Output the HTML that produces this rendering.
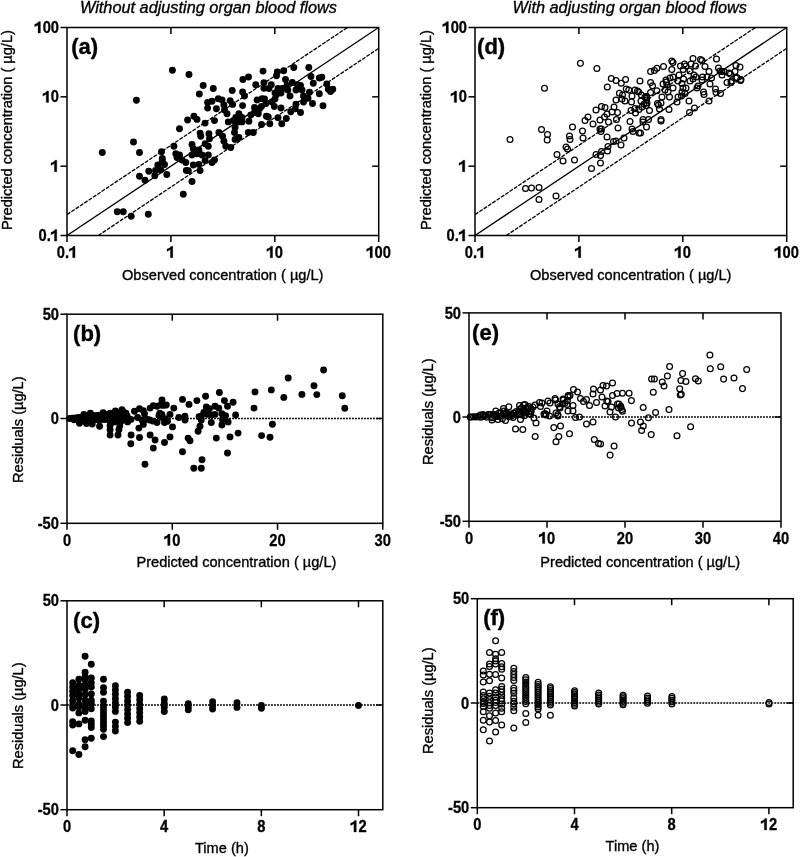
<!DOCTYPE html>
<html><head><meta charset="utf-8"><style>
html,body{margin:0;padding:0;background:#fff;}
body{width:800px;height:857px;overflow:hidden;font-family:"Liberation Sans", sans-serif;}
svg{display:block;will-change:transform;}
text{-webkit-font-smoothing:antialiased;}
</style></head><body>
<svg width="800" height="857" viewBox="0 0 800 857" font-family='"Liberation Sans", sans-serif'><clipPath id="clipa"><rect x="67" y="27.5" width="311.7" height="208.0"/></clipPath>
<g clip-path="url(#clipa)">
<line x1="67.00" y1="235.50" x2="378.70" y2="27.50" stroke="#000" stroke-width="1.3" />
<line x1="67.00" y1="214.63" x2="347.42" y2="27.50" stroke="#000" stroke-width="1.3" stroke-dasharray="4,1.2"/>
<line x1="98.28" y1="235.50" x2="378.70" y2="48.37" stroke="#000" stroke-width="1.3" stroke-dasharray="4,1.2"/>
</g>
<rect x="67" y="27.5" width="311.7" height="208.0" fill="none" stroke="#000" stroke-width="1.5"/>
<line x1="67.00" y1="235.50" x2="67.00" y2="242.00" stroke="#000" stroke-width="1.5" />
<line x1="60.50" y1="235.50" x2="67.00" y2="235.50" stroke="#000" stroke-width="1.5" />
<g transform="translate(56.77 257.80) scale(0.92 1)" fill="#000" stroke="#000" stroke-width="0.3"><text x="0.000" y="0" font-size="16" font-weight="700">0</text><text x="8.896" y="0" font-size="16" font-weight="700">.</text><path transform="translate(13.344 0)" d="M6.5,0 L6.5,-11.5 L4.6,-11.5 C3.9,-10.2 2.2,-9.2 0.25,-8.8 L0.25,-6.4 C1.5,-6.8 2.8,-7.4 3.9,-8.2 L3.9,0 Z"/></g>
<g transform="translate(38.54 241.10) scale(0.92 1)" fill="#000" stroke="#000" stroke-width="0.3"><text x="0.000" y="0" font-size="16" font-weight="700">0</text><text x="8.896" y="0" font-size="16" font-weight="700">.</text><path transform="translate(13.344 0)" d="M6.5,0 L6.5,-11.5 L4.6,-11.5 C3.9,-10.2 2.2,-9.2 0.25,-8.8 L0.25,-6.4 C1.5,-6.8 2.8,-7.4 3.9,-8.2 L3.9,0 Z"/></g>
<line x1="170.90" y1="235.50" x2="170.90" y2="242.00" stroke="#000" stroke-width="1.5" />
<line x1="60.50" y1="166.17" x2="67.00" y2="166.17" stroke="#000" stroke-width="1.5" />
<line x1="170.90" y1="27.50" x2="170.90" y2="34.00" stroke="#000" stroke-width="1.5" />
<line x1="372.20" y1="166.17" x2="378.70" y2="166.17" stroke="#000" stroke-width="1.5" />
<g transform="translate(166.81 257.80) scale(0.92 1)" fill="#000" stroke="#000" stroke-width="0.3"><path transform="translate(0.000 0)" d="M6.5,0 L6.5,-11.5 L4.6,-11.5 C3.9,-10.2 2.2,-9.2 0.25,-8.8 L0.25,-6.4 C1.5,-6.8 2.8,-7.4 3.9,-8.2 L3.9,0 Z"/></g>
<g transform="translate(50.82 171.77) scale(0.92 1)" fill="#000" stroke="#000" stroke-width="0.3"><path transform="translate(0.000 0)" d="M6.5,0 L6.5,-11.5 L4.6,-11.5 C3.9,-10.2 2.2,-9.2 0.25,-8.8 L0.25,-6.4 C1.5,-6.8 2.8,-7.4 3.9,-8.2 L3.9,0 Z"/></g>
<line x1="274.80" y1="235.50" x2="274.80" y2="242.00" stroke="#000" stroke-width="1.5" />
<line x1="60.50" y1="96.83" x2="67.00" y2="96.83" stroke="#000" stroke-width="1.5" />
<line x1="274.80" y1="27.50" x2="274.80" y2="34.00" stroke="#000" stroke-width="1.5" />
<line x1="372.20" y1="96.83" x2="378.70" y2="96.83" stroke="#000" stroke-width="1.5" />
<g transform="translate(266.62 257.80) scale(0.92 1)" fill="#000" stroke="#000" stroke-width="0.3"><path transform="translate(0.000 0)" d="M6.5,0 L6.5,-11.5 L4.6,-11.5 C3.9,-10.2 2.2,-9.2 0.25,-8.8 L0.25,-6.4 C1.5,-6.8 2.8,-7.4 3.9,-8.2 L3.9,0 Z"/><text x="8.896" y="0" font-size="16" font-weight="700">0</text></g>
<g transform="translate(42.63 102.43) scale(0.92 1)" fill="#000" stroke="#000" stroke-width="0.3"><path transform="translate(0.000 0)" d="M6.5,0 L6.5,-11.5 L4.6,-11.5 C3.9,-10.2 2.2,-9.2 0.25,-8.8 L0.25,-6.4 C1.5,-6.8 2.8,-7.4 3.9,-8.2 L3.9,0 Z"/><text x="8.896" y="0" font-size="16" font-weight="700">0</text></g>
<line x1="378.70" y1="235.50" x2="378.70" y2="242.00" stroke="#000" stroke-width="1.5" />
<line x1="60.50" y1="27.50" x2="67.00" y2="27.50" stroke="#000" stroke-width="1.5" />
<g transform="translate(366.42 257.80) scale(0.92 1)" fill="#000" stroke="#000" stroke-width="0.3"><path transform="translate(0.000 0)" d="M6.5,0 L6.5,-11.5 L4.6,-11.5 C3.9,-10.2 2.2,-9.2 0.25,-8.8 L0.25,-6.4 C1.5,-6.8 2.8,-7.4 3.9,-8.2 L3.9,0 Z"/><text x="8.896" y="0" font-size="16" font-weight="700">0</text><text x="17.792" y="0" font-size="16" font-weight="700">0</text></g>
<g transform="translate(34.45 33.10) scale(0.92 1)" fill="#000" stroke="#000" stroke-width="0.3"><path transform="translate(0.000 0)" d="M6.5,0 L6.5,-11.5 L4.6,-11.5 C3.9,-10.2 2.2,-9.2 0.25,-8.8 L0.25,-6.4 C1.5,-6.8 2.8,-7.4 3.9,-8.2 L3.9,0 Z"/><text x="8.896" y="0" font-size="16" font-weight="700">0</text><text x="17.792" y="0" font-size="16" font-weight="700">0</text></g>
<text x="71.20" y="54.20" font-size="22" font-weight="700" font-style="normal" text-anchor="start" stroke="#000" stroke-width="0.4">(a)</text>
<text x="80.00" y="12.70" font-size="16.3" font-weight="400" font-style="italic" text-anchor="start" stroke="#000" stroke-width="0.35" >Without adjusting organ blood flows</text>
<text x="122.00" y="279.60" font-size="14.6" font-weight="400" font-style="normal" text-anchor="start" stroke="#000" stroke-width="0.35" >Observed concentration ( µg/L)</text>
<circle cx="172.4" cy="70.3" r="3.45" fill="#000"/>
<circle cx="136.4" cy="100.3" r="3.45" fill="#000"/>
<circle cx="189.0" cy="74.5" r="3.45" fill="#000"/>
<circle cx="203.2" cy="85.5" r="3.45" fill="#000"/>
<circle cx="213.3" cy="88.5" r="3.45" fill="#000"/>
<circle cx="199.3" cy="94.0" r="3.45" fill="#000"/>
<circle cx="232.2" cy="90.5" r="3.45" fill="#000"/>
<circle cx="242.9" cy="79.5" r="3.45" fill="#000"/>
<circle cx="248.5" cy="77.0" r="3.45" fill="#000"/>
<circle cx="263.0" cy="71.1" r="3.45" fill="#000"/>
<circle cx="255.7" cy="84.7" r="3.45" fill="#000"/>
<circle cx="242.6" cy="92.0" r="3.45" fill="#000"/>
<circle cx="263.9" cy="82.6" r="3.45" fill="#000"/>
<circle cx="263.9" cy="88.3" r="3.45" fill="#000"/>
<circle cx="244.5" cy="96.0" r="3.45" fill="#000"/>
<circle cx="277.3" cy="72.0" r="3.45" fill="#000"/>
<circle cx="276.5" cy="75.8" r="3.45" fill="#000"/>
<circle cx="283.7" cy="70.8" r="3.45" fill="#000"/>
<circle cx="293.8" cy="67.5" r="3.45" fill="#000"/>
<circle cx="308.8" cy="67.5" r="3.45" fill="#000"/>
<circle cx="311.0" cy="76.5" r="3.45" fill="#000"/>
<circle cx="319.3" cy="78.0" r="3.45" fill="#000"/>
<circle cx="321.8" cy="77.3" r="3.45" fill="#000"/>
<circle cx="313.3" cy="83.3" r="3.45" fill="#000"/>
<circle cx="326.8" cy="84.0" r="3.45" fill="#000"/>
<circle cx="328.3" cy="89.3" r="3.45" fill="#000"/>
<circle cx="332.8" cy="89.3" r="3.45" fill="#000"/>
<circle cx="285.5" cy="79.5" r="3.45" fill="#000"/>
<circle cx="271.3" cy="84.8" r="3.45" fill="#000"/>
<circle cx="269.0" cy="88.5" r="3.45" fill="#000"/>
<circle cx="278.0" cy="88.5" r="3.45" fill="#000"/>
<circle cx="287.0" cy="85.5" r="3.45" fill="#000"/>
<circle cx="292.3" cy="82.5" r="3.45" fill="#000"/>
<circle cx="297.5" cy="84.8" r="3.45" fill="#000"/>
<circle cx="300.5" cy="85.5" r="3.45" fill="#000"/>
<circle cx="296.0" cy="90.0" r="3.45" fill="#000"/>
<circle cx="302.0" cy="90.0" r="3.45" fill="#000"/>
<circle cx="287.8" cy="90.0" r="3.45" fill="#000"/>
<circle cx="282.5" cy="88.5" r="3.45" fill="#000"/>
<circle cx="275.0" cy="93.0" r="3.45" fill="#000"/>
<circle cx="281.0" cy="93.0" r="3.45" fill="#000"/>
<circle cx="309.5" cy="92.3" r="3.45" fill="#000"/>
<circle cx="319.3" cy="93.8" r="3.45" fill="#000"/>
<circle cx="303.5" cy="96.0" r="3.45" fill="#000"/>
<circle cx="290.0" cy="96.0" r="3.45" fill="#000"/>
<circle cx="308.0" cy="98.3" r="3.45" fill="#000"/>
<circle cx="303.5" cy="102.0" r="3.45" fill="#000"/>
<circle cx="312.5" cy="103.5" r="3.45" fill="#000"/>
<circle cx="330.5" cy="91.5" r="3.45" fill="#000"/>
<circle cx="323.0" cy="105.8" r="3.45" fill="#000"/>
<circle cx="296.0" cy="104.3" r="3.45" fill="#000"/>
<circle cx="295.3" cy="108.8" r="3.45" fill="#000"/>
<circle cx="290.8" cy="111.8" r="3.45" fill="#000"/>
<circle cx="300.5" cy="112.5" r="3.45" fill="#000"/>
<circle cx="281.0" cy="108.0" r="3.45" fill="#000"/>
<circle cx="274.3" cy="106.5" r="3.45" fill="#000"/>
<circle cx="268.3" cy="117.0" r="3.45" fill="#000"/>
<circle cx="278.0" cy="117.8" r="3.45" fill="#000"/>
<circle cx="286.3" cy="118.5" r="3.45" fill="#000"/>
<circle cx="269.8" cy="123.8" r="3.45" fill="#000"/>
<circle cx="281.8" cy="123.8" r="3.45" fill="#000"/>
<circle cx="261.5" cy="124.5" r="3.45" fill="#000"/>
<circle cx="264.5" cy="99.0" r="3.45" fill="#000"/>
<circle cx="266.0" cy="103.5" r="3.45" fill="#000"/>
<circle cx="261.5" cy="106.5" r="3.45" fill="#000"/>
<circle cx="276.5" cy="94.5" r="3.45" fill="#000"/>
<circle cx="272.0" cy="102.0" r="3.45" fill="#000"/>
<circle cx="275.0" cy="99.0" r="3.45" fill="#000"/>
<circle cx="207.6" cy="102.5" r="3.45" fill="#000"/>
<circle cx="212.0" cy="101.3" r="3.45" fill="#000"/>
<circle cx="218.3" cy="98.8" r="3.45" fill="#000"/>
<circle cx="222.0" cy="100.0" r="3.45" fill="#000"/>
<circle cx="216.4" cy="108.8" r="3.45" fill="#000"/>
<circle cx="207.6" cy="108.1" r="3.45" fill="#000"/>
<circle cx="223.9" cy="105.0" r="3.45" fill="#000"/>
<circle cx="230.1" cy="100.6" r="3.45" fill="#000"/>
<circle cx="232.6" cy="104.4" r="3.45" fill="#000"/>
<circle cx="224.5" cy="110.0" r="3.45" fill="#000"/>
<circle cx="227.0" cy="113.8" r="3.45" fill="#000"/>
<circle cx="242.6" cy="105.6" r="3.45" fill="#000"/>
<circle cx="257.0" cy="100.0" r="3.45" fill="#000"/>
<circle cx="262.0" cy="98.8" r="3.45" fill="#000"/>
<circle cx="254.5" cy="107.5" r="3.45" fill="#000"/>
<circle cx="259.5" cy="108.8" r="3.45" fill="#000"/>
<circle cx="238.9" cy="113.8" r="3.45" fill="#000"/>
<circle cx="235.8" cy="117.5" r="3.45" fill="#000"/>
<circle cx="242.0" cy="117.5" r="3.45" fill="#000"/>
<circle cx="228.3" cy="121.9" r="3.45" fill="#000"/>
<circle cx="233.3" cy="120.6" r="3.45" fill="#000"/>
<circle cx="238.3" cy="121.9" r="3.45" fill="#000"/>
<circle cx="242.0" cy="121.9" r="3.45" fill="#000"/>
<circle cx="248.9" cy="121.3" r="3.45" fill="#000"/>
<circle cx="250.8" cy="115.0" r="3.45" fill="#000"/>
<circle cx="254.5" cy="112.5" r="3.45" fill="#000"/>
<circle cx="258.3" cy="113.8" r="3.45" fill="#000"/>
<circle cx="266.4" cy="116.3" r="3.45" fill="#000"/>
<circle cx="235.1" cy="127.5" r="3.45" fill="#000"/>
<circle cx="234.5" cy="132.5" r="3.45" fill="#000"/>
<circle cx="238.9" cy="137.5" r="3.45" fill="#000"/>
<circle cx="235.1" cy="139.4" r="3.45" fill="#000"/>
<circle cx="248.3" cy="132.5" r="3.45" fill="#000"/>
<circle cx="253.3" cy="132.5" r="3.45" fill="#000"/>
<circle cx="187.6" cy="120.0" r="3.45" fill="#000"/>
<circle cx="193.9" cy="116.3" r="3.45" fill="#000"/>
<circle cx="197.0" cy="119.4" r="3.45" fill="#000"/>
<circle cx="179.5" cy="128.8" r="3.45" fill="#000"/>
<circle cx="205.1" cy="123.1" r="3.45" fill="#000"/>
<circle cx="214.5" cy="120.6" r="3.45" fill="#000"/>
<circle cx="200.1" cy="133.1" r="3.45" fill="#000"/>
<circle cx="200.8" cy="136.3" r="3.45" fill="#000"/>
<circle cx="208.9" cy="133.8" r="3.45" fill="#000"/>
<circle cx="209.5" cy="138.8" r="3.45" fill="#000"/>
<circle cx="218.9" cy="132.5" r="3.45" fill="#000"/>
<circle cx="222.6" cy="136.3" r="3.45" fill="#000"/>
<circle cx="223.9" cy="141.3" r="3.45" fill="#000"/>
<circle cx="225.8" cy="146.3" r="3.45" fill="#000"/>
<circle cx="230.8" cy="147.5" r="3.45" fill="#000"/>
<circle cx="205.1" cy="143.8" r="3.45" fill="#000"/>
<circle cx="208.3" cy="146.3" r="3.45" fill="#000"/>
<circle cx="192.0" cy="144.4" r="3.45" fill="#000"/>
<circle cx="193.3" cy="148.8" r="3.45" fill="#000"/>
<circle cx="198.9" cy="150.0" r="3.45" fill="#000"/>
<circle cx="197.0" cy="153.8" r="3.45" fill="#000"/>
<circle cx="202.0" cy="155.0" r="3.45" fill="#000"/>
<circle cx="208.3" cy="155.0" r="3.45" fill="#000"/>
<circle cx="192.0" cy="155.0" r="3.45" fill="#000"/>
<circle cx="173.9" cy="146.3" r="3.45" fill="#000"/>
<circle cx="175.8" cy="153.8" r="3.45" fill="#000"/>
<circle cx="179.5" cy="155.0" r="3.45" fill="#000"/>
<circle cx="182.0" cy="160.0" r="3.45" fill="#000"/>
<circle cx="185.8" cy="162.5" r="3.45" fill="#000"/>
<circle cx="214.5" cy="160.0" r="3.45" fill="#000"/>
<circle cx="212.0" cy="162.5" r="3.45" fill="#000"/>
<circle cx="133.5" cy="142.0" r="3.45" fill="#000"/>
<circle cx="102.3" cy="152.5" r="3.45" fill="#000"/>
<circle cx="139.5" cy="152.5" r="3.45" fill="#000"/>
<circle cx="161.5" cy="151.8" r="3.45" fill="#000"/>
<circle cx="162.3" cy="158.5" r="3.45" fill="#000"/>
<circle cx="139.5" cy="176.2" r="3.45" fill="#000"/>
<circle cx="145.0" cy="180.3" r="3.45" fill="#000"/>
<circle cx="148.8" cy="171.3" r="3.45" fill="#000"/>
<circle cx="155.5" cy="170.5" r="3.45" fill="#000"/>
<circle cx="157.8" cy="165.0" r="3.45" fill="#000"/>
<circle cx="164.5" cy="164.5" r="3.45" fill="#000"/>
<circle cx="160.8" cy="169.8" r="3.45" fill="#000"/>
<circle cx="154.8" cy="175.8" r="3.45" fill="#000"/>
<circle cx="166.8" cy="174.5" r="3.45" fill="#000"/>
<circle cx="162.3" cy="160.8" r="3.45" fill="#000"/>
<circle cx="186.3" cy="170.5" r="3.45" fill="#000"/>
<circle cx="183.3" cy="194.2" r="3.45" fill="#000"/>
<circle cx="117.3" cy="211.8" r="3.45" fill="#000"/>
<circle cx="123.3" cy="211.8" r="3.45" fill="#000"/>
<circle cx="131.2" cy="216.3" r="3.45" fill="#000"/>
<circle cx="148.3" cy="214.3" r="3.45" fill="#000"/>
<circle cx="192.0" cy="181.5" r="3.45" fill="#000"/>
<circle cx="188.3" cy="170.6" r="3.45" fill="#000"/>
<circle cx="193.3" cy="165.0" r="3.45" fill="#000"/>
<circle cx="198.9" cy="164.4" r="3.45" fill="#000"/>
<circle cx="200.1" cy="170.6" r="3.45" fill="#000"/>
<circle cx="205.1" cy="160.6" r="3.45" fill="#000"/>
<circle cx="177.0" cy="157.5" r="3.45" fill="#000"/>
<text x="11.50" y="230.00" font-size="14.6" font-weight="400" font-style="normal" text-anchor="start" stroke="#000" stroke-width="0.35" transform="rotate(-90 11.5 230)">Predicted concentration ( µg/L)</text>
<clipPath id="clipd"><rect x="475" y="27.5" width="311.70000000000005" height="208.0"/></clipPath>
<g clip-path="url(#clipd)">
<line x1="475.00" y1="235.50" x2="786.70" y2="27.50" stroke="#000" stroke-width="1.3" />
<line x1="475.00" y1="214.63" x2="755.42" y2="27.50" stroke="#000" stroke-width="1.3" stroke-dasharray="4,1.2"/>
<line x1="506.28" y1="235.50" x2="786.70" y2="48.37" stroke="#000" stroke-width="1.3" stroke-dasharray="4,1.2"/>
</g>
<rect x="475" y="27.5" width="311.70000000000005" height="208.0" fill="none" stroke="#000" stroke-width="1.5"/>
<line x1="475.00" y1="235.50" x2="475.00" y2="242.00" stroke="#000" stroke-width="1.5" />
<line x1="468.50" y1="235.50" x2="475.00" y2="235.50" stroke="#000" stroke-width="1.5" />
<g transform="translate(464.77 257.80) scale(0.92 1)" fill="#000" stroke="#000" stroke-width="0.3"><text x="0.000" y="0" font-size="16" font-weight="700">0</text><text x="8.896" y="0" font-size="16" font-weight="700">.</text><path transform="translate(13.344 0)" d="M6.5,0 L6.5,-11.5 L4.6,-11.5 C3.9,-10.2 2.2,-9.2 0.25,-8.8 L0.25,-6.4 C1.5,-6.8 2.8,-7.4 3.9,-8.2 L3.9,0 Z"/></g>
<g transform="translate(446.54 241.10) scale(0.92 1)" fill="#000" stroke="#000" stroke-width="0.3"><text x="0.000" y="0" font-size="16" font-weight="700">0</text><text x="8.896" y="0" font-size="16" font-weight="700">.</text><path transform="translate(13.344 0)" d="M6.5,0 L6.5,-11.5 L4.6,-11.5 C3.9,-10.2 2.2,-9.2 0.25,-8.8 L0.25,-6.4 C1.5,-6.8 2.8,-7.4 3.9,-8.2 L3.9,0 Z"/></g>
<line x1="578.90" y1="235.50" x2="578.90" y2="242.00" stroke="#000" stroke-width="1.5" />
<line x1="468.50" y1="166.17" x2="475.00" y2="166.17" stroke="#000" stroke-width="1.5" />
<line x1="578.90" y1="27.50" x2="578.90" y2="34.00" stroke="#000" stroke-width="1.5" />
<line x1="780.20" y1="166.17" x2="786.70" y2="166.17" stroke="#000" stroke-width="1.5" />
<g transform="translate(574.81 257.80) scale(0.92 1)" fill="#000" stroke="#000" stroke-width="0.3"><path transform="translate(0.000 0)" d="M6.5,0 L6.5,-11.5 L4.6,-11.5 C3.9,-10.2 2.2,-9.2 0.25,-8.8 L0.25,-6.4 C1.5,-6.8 2.8,-7.4 3.9,-8.2 L3.9,0 Z"/></g>
<g transform="translate(458.82 171.77) scale(0.92 1)" fill="#000" stroke="#000" stroke-width="0.3"><path transform="translate(0.000 0)" d="M6.5,0 L6.5,-11.5 L4.6,-11.5 C3.9,-10.2 2.2,-9.2 0.25,-8.8 L0.25,-6.4 C1.5,-6.8 2.8,-7.4 3.9,-8.2 L3.9,0 Z"/></g>
<line x1="682.80" y1="235.50" x2="682.80" y2="242.00" stroke="#000" stroke-width="1.5" />
<line x1="468.50" y1="96.83" x2="475.00" y2="96.83" stroke="#000" stroke-width="1.5" />
<line x1="682.80" y1="27.50" x2="682.80" y2="34.00" stroke="#000" stroke-width="1.5" />
<line x1="780.20" y1="96.83" x2="786.70" y2="96.83" stroke="#000" stroke-width="1.5" />
<g transform="translate(674.62 257.80) scale(0.92 1)" fill="#000" stroke="#000" stroke-width="0.3"><path transform="translate(0.000 0)" d="M6.5,0 L6.5,-11.5 L4.6,-11.5 C3.9,-10.2 2.2,-9.2 0.25,-8.8 L0.25,-6.4 C1.5,-6.8 2.8,-7.4 3.9,-8.2 L3.9,0 Z"/><text x="8.896" y="0" font-size="16" font-weight="700">0</text></g>
<g transform="translate(450.63 102.43) scale(0.92 1)" fill="#000" stroke="#000" stroke-width="0.3"><path transform="translate(0.000 0)" d="M6.5,0 L6.5,-11.5 L4.6,-11.5 C3.9,-10.2 2.2,-9.2 0.25,-8.8 L0.25,-6.4 C1.5,-6.8 2.8,-7.4 3.9,-8.2 L3.9,0 Z"/><text x="8.896" y="0" font-size="16" font-weight="700">0</text></g>
<line x1="786.70" y1="235.50" x2="786.70" y2="242.00" stroke="#000" stroke-width="1.5" />
<line x1="468.50" y1="27.50" x2="475.00" y2="27.50" stroke="#000" stroke-width="1.5" />
<g transform="translate(774.42 257.80) scale(0.92 1)" fill="#000" stroke="#000" stroke-width="0.3"><path transform="translate(0.000 0)" d="M6.5,0 L6.5,-11.5 L4.6,-11.5 C3.9,-10.2 2.2,-9.2 0.25,-8.8 L0.25,-6.4 C1.5,-6.8 2.8,-7.4 3.9,-8.2 L3.9,0 Z"/><text x="8.896" y="0" font-size="16" font-weight="700">0</text><text x="17.792" y="0" font-size="16" font-weight="700">0</text></g>
<g transform="translate(442.45 33.10) scale(0.92 1)" fill="#000" stroke="#000" stroke-width="0.3"><path transform="translate(0.000 0)" d="M6.5,0 L6.5,-11.5 L4.6,-11.5 C3.9,-10.2 2.2,-9.2 0.25,-8.8 L0.25,-6.4 C1.5,-6.8 2.8,-7.4 3.9,-8.2 L3.9,0 Z"/><text x="8.896" y="0" font-size="16" font-weight="700">0</text><text x="17.792" y="0" font-size="16" font-weight="700">0</text></g>
<text x="477.10" y="54.20" font-size="22" font-weight="700" font-style="normal" text-anchor="start" stroke="#000" stroke-width="0.4">(d)</text>
<text x="512.60" y="12.70" font-size="16.3" font-weight="400" font-style="italic" text-anchor="start" stroke="#000" stroke-width="0.35" >With adjusting organ blood flows</text>
<text x="530.00" y="279.60" font-size="14.6" font-weight="400" font-style="normal" text-anchor="start" stroke="#000" stroke-width="0.35" >Observed concentration ( µg/L)</text>
<circle cx="580.4" cy="63.2" r="2.9" fill="none" stroke="#000" stroke-width="1.25"/>
<circle cx="544.5" cy="88.2" r="2.9" fill="none" stroke="#000" stroke-width="1.25"/>
<circle cx="596.9" cy="68.5" r="2.9" fill="none" stroke="#000" stroke-width="1.25"/>
<circle cx="611.3" cy="78.5" r="2.9" fill="none" stroke="#000" stroke-width="1.25"/>
<circle cx="616.0" cy="80.5" r="2.9" fill="none" stroke="#000" stroke-width="1.25"/>
<circle cx="621.3" cy="83.3" r="2.9" fill="none" stroke="#000" stroke-width="1.25"/>
<circle cx="625.6" cy="79.5" r="2.9" fill="none" stroke="#000" stroke-width="1.25"/>
<circle cx="607.3" cy="87.0" r="2.9" fill="none" stroke="#000" stroke-width="1.25"/>
<circle cx="640.0" cy="81.0" r="2.9" fill="none" stroke="#000" stroke-width="1.25"/>
<circle cx="650.6" cy="71.4" r="2.9" fill="none" stroke="#000" stroke-width="1.25"/>
<circle cx="654.4" cy="70.5" r="2.9" fill="none" stroke="#000" stroke-width="1.25"/>
<circle cx="656.9" cy="68.3" r="2.9" fill="none" stroke="#000" stroke-width="1.25"/>
<circle cx="650.6" cy="82.6" r="2.9" fill="none" stroke="#000" stroke-width="1.25"/>
<circle cx="652.5" cy="85.8" r="2.9" fill="none" stroke="#000" stroke-width="1.25"/>
<circle cx="626.3" cy="88.9" r="2.9" fill="none" stroke="#000" stroke-width="1.25"/>
<circle cx="628.8" cy="90.1" r="2.9" fill="none" stroke="#000" stroke-width="1.25"/>
<circle cx="635.0" cy="90.1" r="2.9" fill="none" stroke="#000" stroke-width="1.25"/>
<circle cx="638.8" cy="92.0" r="2.9" fill="none" stroke="#000" stroke-width="1.25"/>
<circle cx="619.4" cy="93.3" r="2.9" fill="none" stroke="#000" stroke-width="1.25"/>
<circle cx="622.5" cy="95.0" r="2.9" fill="none" stroke="#000" stroke-width="1.25"/>
<circle cx="650.6" cy="92.6" r="2.9" fill="none" stroke="#000" stroke-width="1.25"/>
<circle cx="656.9" cy="90.8" r="2.9" fill="none" stroke="#000" stroke-width="1.25"/>
<circle cx="641.3" cy="95.0" r="2.9" fill="none" stroke="#000" stroke-width="1.25"/>
<circle cx="663.5" cy="66.5" r="2.9" fill="none" stroke="#000" stroke-width="1.25"/>
<circle cx="671.8" cy="61.0" r="2.9" fill="none" stroke="#000" stroke-width="1.25"/>
<circle cx="673.0" cy="62.5" r="2.9" fill="none" stroke="#000" stroke-width="1.25"/>
<circle cx="671.8" cy="69.5" r="2.9" fill="none" stroke="#000" stroke-width="1.25"/>
<circle cx="680.5" cy="66.0" r="2.9" fill="none" stroke="#000" stroke-width="1.25"/>
<circle cx="684.5" cy="64.0" r="2.9" fill="none" stroke="#000" stroke-width="1.25"/>
<circle cx="686.0" cy="66.0" r="2.9" fill="none" stroke="#000" stroke-width="1.25"/>
<circle cx="683.2" cy="69.5" r="2.9" fill="none" stroke="#000" stroke-width="1.25"/>
<circle cx="693.0" cy="58.5" r="2.9" fill="none" stroke="#000" stroke-width="1.25"/>
<circle cx="700.5" cy="59.5" r="2.9" fill="none" stroke="#000" stroke-width="1.25"/>
<circle cx="702.0" cy="60.5" r="2.9" fill="none" stroke="#000" stroke-width="1.25"/>
<circle cx="695.5" cy="66.0" r="2.9" fill="none" stroke="#000" stroke-width="1.25"/>
<circle cx="691.0" cy="64.0" r="2.9" fill="none" stroke="#000" stroke-width="1.25"/>
<circle cx="705.0" cy="66.5" r="2.9" fill="none" stroke="#000" stroke-width="1.25"/>
<circle cx="716.5" cy="59.0" r="2.9" fill="none" stroke="#000" stroke-width="1.25"/>
<circle cx="718.5" cy="68.0" r="2.9" fill="none" stroke="#000" stroke-width="1.25"/>
<circle cx="720.0" cy="71.0" r="2.9" fill="none" stroke="#000" stroke-width="1.25"/>
<circle cx="724.0" cy="71.5" r="2.9" fill="none" stroke="#000" stroke-width="1.25"/>
<circle cx="729.0" cy="73.0" r="2.9" fill="none" stroke="#000" stroke-width="1.25"/>
<circle cx="722.0" cy="75.0" r="2.9" fill="none" stroke="#000" stroke-width="1.25"/>
<circle cx="736.0" cy="65.5" r="2.9" fill="none" stroke="#000" stroke-width="1.25"/>
<circle cx="740.0" cy="67.1" r="2.9" fill="none" stroke="#000" stroke-width="1.25"/>
<circle cx="735.0" cy="71.5" r="2.9" fill="none" stroke="#000" stroke-width="1.25"/>
<circle cx="737.0" cy="77.5" r="2.9" fill="none" stroke="#000" stroke-width="1.25"/>
<circle cx="731.5" cy="81.0" r="2.9" fill="none" stroke="#000" stroke-width="1.25"/>
<circle cx="727.0" cy="82.5" r="2.9" fill="none" stroke="#000" stroke-width="1.25"/>
<circle cx="690.0" cy="71.0" r="2.9" fill="none" stroke="#000" stroke-width="1.25"/>
<circle cx="694.0" cy="75.0" r="2.9" fill="none" stroke="#000" stroke-width="1.25"/>
<circle cx="702.5" cy="77.0" r="2.9" fill="none" stroke="#000" stroke-width="1.25"/>
<circle cx="707.0" cy="77.0" r="2.9" fill="none" stroke="#000" stroke-width="1.25"/>
<circle cx="709.0" cy="71.5" r="2.9" fill="none" stroke="#000" stroke-width="1.25"/>
<circle cx="711.5" cy="78.0" r="2.9" fill="none" stroke="#000" stroke-width="1.25"/>
<circle cx="693.0" cy="79.0" r="2.9" fill="none" stroke="#000" stroke-width="1.25"/>
<circle cx="690.0" cy="81.0" r="2.9" fill="none" stroke="#000" stroke-width="1.25"/>
<circle cx="696.0" cy="77.0" r="2.9" fill="none" stroke="#000" stroke-width="1.25"/>
<circle cx="702.0" cy="80.0" r="2.9" fill="none" stroke="#000" stroke-width="1.25"/>
<circle cx="710.0" cy="84.0" r="2.9" fill="none" stroke="#000" stroke-width="1.25"/>
<circle cx="698.0" cy="86.0" r="2.9" fill="none" stroke="#000" stroke-width="1.25"/>
<circle cx="697.0" cy="88.0" r="2.9" fill="none" stroke="#000" stroke-width="1.25"/>
<circle cx="679.0" cy="75.0" r="2.9" fill="none" stroke="#000" stroke-width="1.25"/>
<circle cx="683.5" cy="79.0" r="2.9" fill="none" stroke="#000" stroke-width="1.25"/>
<circle cx="678.0" cy="81.0" r="2.9" fill="none" stroke="#000" stroke-width="1.25"/>
<circle cx="682.0" cy="83.5" r="2.9" fill="none" stroke="#000" stroke-width="1.25"/>
<circle cx="670.0" cy="78.0" r="2.9" fill="none" stroke="#000" stroke-width="1.25"/>
<circle cx="673.0" cy="77.0" r="2.9" fill="none" stroke="#000" stroke-width="1.25"/>
<circle cx="666.0" cy="80.0" r="2.9" fill="none" stroke="#000" stroke-width="1.25"/>
<circle cx="663.0" cy="84.0" r="2.9" fill="none" stroke="#000" stroke-width="1.25"/>
<circle cx="667.0" cy="85.0" r="2.9" fill="none" stroke="#000" stroke-width="1.25"/>
<circle cx="673.0" cy="88.0" r="2.9" fill="none" stroke="#000" stroke-width="1.25"/>
<circle cx="665.0" cy="90.0" r="2.9" fill="none" stroke="#000" stroke-width="1.25"/>
<circle cx="668.0" cy="92.0" r="2.9" fill="none" stroke="#000" stroke-width="1.25"/>
<circle cx="662.0" cy="97.0" r="2.9" fill="none" stroke="#000" stroke-width="1.25"/>
<circle cx="669.5" cy="97.0" r="2.9" fill="none" stroke="#000" stroke-width="1.25"/>
<circle cx="683.0" cy="88.0" r="2.9" fill="none" stroke="#000" stroke-width="1.25"/>
<circle cx="686.0" cy="88.0" r="2.9" fill="none" stroke="#000" stroke-width="1.25"/>
<circle cx="682.0" cy="92.0" r="2.9" fill="none" stroke="#000" stroke-width="1.25"/>
<circle cx="685.0" cy="93.5" r="2.9" fill="none" stroke="#000" stroke-width="1.25"/>
<circle cx="681.5" cy="96.0" r="2.9" fill="none" stroke="#000" stroke-width="1.25"/>
<circle cx="678.0" cy="97.0" r="2.9" fill="none" stroke="#000" stroke-width="1.25"/>
<circle cx="677.0" cy="102.0" r="2.9" fill="none" stroke="#000" stroke-width="1.25"/>
<circle cx="689.0" cy="101.0" r="2.9" fill="none" stroke="#000" stroke-width="1.25"/>
<circle cx="703.5" cy="92.0" r="2.9" fill="none" stroke="#000" stroke-width="1.25"/>
<circle cx="704.0" cy="94.5" r="2.9" fill="none" stroke="#000" stroke-width="1.25"/>
<circle cx="715.5" cy="89.0" r="2.9" fill="none" stroke="#000" stroke-width="1.25"/>
<circle cx="716.0" cy="92.5" r="2.9" fill="none" stroke="#000" stroke-width="1.25"/>
<circle cx="720.5" cy="93.5" r="2.9" fill="none" stroke="#000" stroke-width="1.25"/>
<circle cx="709.0" cy="101.0" r="2.9" fill="none" stroke="#000" stroke-width="1.25"/>
<circle cx="661.0" cy="103.0" r="2.9" fill="none" stroke="#000" stroke-width="1.25"/>
<circle cx="666.3" cy="82.0" r="2.9" fill="none" stroke="#000" stroke-width="1.25"/>
<circle cx="730.5" cy="74.1" r="2.9" fill="none" stroke="#000" stroke-width="1.25"/>
<circle cx="735.8" cy="78.1" r="2.9" fill="none" stroke="#000" stroke-width="1.25"/>
<circle cx="741.0" cy="79.4" r="2.9" fill="none" stroke="#000" stroke-width="1.25"/>
<circle cx="721.8" cy="71.5" r="2.9" fill="none" stroke="#000" stroke-width="1.25"/>
<circle cx="657.5" cy="103.5" r="2.9" fill="none" stroke="#000" stroke-width="1.25"/>
<circle cx="658.5" cy="105.0" r="2.9" fill="none" stroke="#000" stroke-width="1.25"/>
<circle cx="659.5" cy="109.0" r="2.9" fill="none" stroke="#000" stroke-width="1.25"/>
<circle cx="649.5" cy="110.5" r="2.9" fill="none" stroke="#000" stroke-width="1.25"/>
<circle cx="669.0" cy="109.5" r="2.9" fill="none" stroke="#000" stroke-width="1.25"/>
<circle cx="694.5" cy="108.0" r="2.9" fill="none" stroke="#000" stroke-width="1.25"/>
<circle cx="689.5" cy="112.5" r="2.9" fill="none" stroke="#000" stroke-width="1.25"/>
<circle cx="661.0" cy="119.5" r="2.9" fill="none" stroke="#000" stroke-width="1.25"/>
<circle cx="648.5" cy="119.5" r="2.9" fill="none" stroke="#000" stroke-width="1.25"/>
<circle cx="643.0" cy="119.5" r="2.9" fill="none" stroke="#000" stroke-width="1.25"/>
<circle cx="646.5" cy="127.0" r="2.9" fill="none" stroke="#000" stroke-width="1.25"/>
<circle cx="640.5" cy="133.0" r="2.9" fill="none" stroke="#000" stroke-width="1.25"/>
<circle cx="637.5" cy="91.0" r="2.9" fill="none" stroke="#000" stroke-width="1.25"/>
<circle cx="632.0" cy="96.0" r="2.9" fill="none" stroke="#000" stroke-width="1.25"/>
<circle cx="616.0" cy="100.0" r="2.9" fill="none" stroke="#000" stroke-width="1.25"/>
<circle cx="622.0" cy="99.0" r="2.9" fill="none" stroke="#000" stroke-width="1.25"/>
<circle cx="625.0" cy="101.0" r="2.9" fill="none" stroke="#000" stroke-width="1.25"/>
<circle cx="631.5" cy="102.0" r="2.9" fill="none" stroke="#000" stroke-width="1.25"/>
<circle cx="646.5" cy="100.0" r="2.9" fill="none" stroke="#000" stroke-width="1.25"/>
<circle cx="647.0" cy="103.0" r="2.9" fill="none" stroke="#000" stroke-width="1.25"/>
<circle cx="596.0" cy="110.0" r="2.9" fill="none" stroke="#000" stroke-width="1.25"/>
<circle cx="601.5" cy="106.5" r="2.9" fill="none" stroke="#000" stroke-width="1.25"/>
<circle cx="605.0" cy="107.5" r="2.9" fill="none" stroke="#000" stroke-width="1.25"/>
<circle cx="614.0" cy="107.0" r="2.9" fill="none" stroke="#000" stroke-width="1.25"/>
<circle cx="607.0" cy="114.0" r="2.9" fill="none" stroke="#000" stroke-width="1.25"/>
<circle cx="612.0" cy="112.0" r="2.9" fill="none" stroke="#000" stroke-width="1.25"/>
<circle cx="617.5" cy="112.5" r="2.9" fill="none" stroke="#000" stroke-width="1.25"/>
<circle cx="616.5" cy="119.5" r="2.9" fill="none" stroke="#000" stroke-width="1.25"/>
<circle cx="604.5" cy="117.0" r="2.9" fill="none" stroke="#000" stroke-width="1.25"/>
<circle cx="608.5" cy="122.0" r="2.9" fill="none" stroke="#000" stroke-width="1.25"/>
<circle cx="600.0" cy="120.0" r="2.9" fill="none" stroke="#000" stroke-width="1.25"/>
<circle cx="588.0" cy="117.0" r="2.9" fill="none" stroke="#000" stroke-width="1.25"/>
<circle cx="585.0" cy="120.5" r="2.9" fill="none" stroke="#000" stroke-width="1.25"/>
<circle cx="593.0" cy="124.0" r="2.9" fill="none" stroke="#000" stroke-width="1.25"/>
<circle cx="631.0" cy="110.5" r="2.9" fill="none" stroke="#000" stroke-width="1.25"/>
<circle cx="635.0" cy="108.5" r="2.9" fill="none" stroke="#000" stroke-width="1.25"/>
<circle cx="639.0" cy="109.5" r="2.9" fill="none" stroke="#000" stroke-width="1.25"/>
<circle cx="642.0" cy="107.0" r="2.9" fill="none" stroke="#000" stroke-width="1.25"/>
<circle cx="635.5" cy="113.0" r="2.9" fill="none" stroke="#000" stroke-width="1.25"/>
<circle cx="630.0" cy="121.5" r="2.9" fill="none" stroke="#000" stroke-width="1.25"/>
<circle cx="618.0" cy="128.0" r="2.9" fill="none" stroke="#000" stroke-width="1.25"/>
<circle cx="600.0" cy="129.0" r="2.9" fill="none" stroke="#000" stroke-width="1.25"/>
<circle cx="601.0" cy="131.5" r="2.9" fill="none" stroke="#000" stroke-width="1.25"/>
<circle cx="582.5" cy="131.0" r="2.9" fill="none" stroke="#000" stroke-width="1.25"/>
<circle cx="583.0" cy="138.0" r="2.9" fill="none" stroke="#000" stroke-width="1.25"/>
<circle cx="632.0" cy="129.0" r="2.9" fill="none" stroke="#000" stroke-width="1.25"/>
<circle cx="633.0" cy="131.5" r="2.9" fill="none" stroke="#000" stroke-width="1.25"/>
<circle cx="639.0" cy="133.0" r="2.9" fill="none" stroke="#000" stroke-width="1.25"/>
<circle cx="607.0" cy="137.0" r="2.9" fill="none" stroke="#000" stroke-width="1.25"/>
<circle cx="624.0" cy="138.0" r="2.9" fill="none" stroke="#000" stroke-width="1.25"/>
<circle cx="644.0" cy="104.0" r="2.9" fill="none" stroke="#000" stroke-width="1.25"/>
<circle cx="641.0" cy="101.0" r="2.9" fill="none" stroke="#000" stroke-width="1.25"/>
<circle cx="646.5" cy="96.5" r="2.9" fill="none" stroke="#000" stroke-width="1.25"/>
<circle cx="646.8" cy="98.2" r="2.9" fill="none" stroke="#000" stroke-width="1.25"/>
<circle cx="646.2" cy="105.5" r="2.9" fill="none" stroke="#000" stroke-width="1.25"/>
<circle cx="645.0" cy="97.0" r="2.9" fill="none" stroke="#000" stroke-width="1.25"/>
<circle cx="541.5" cy="129.5" r="2.9" fill="none" stroke="#000" stroke-width="1.25"/>
<circle cx="547.5" cy="134.5" r="2.9" fill="none" stroke="#000" stroke-width="1.25"/>
<circle cx="547.2" cy="140.0" r="2.9" fill="none" stroke="#000" stroke-width="1.25"/>
<circle cx="572.5" cy="127.0" r="2.9" fill="none" stroke="#000" stroke-width="1.25"/>
<circle cx="569.5" cy="136.0" r="2.9" fill="none" stroke="#000" stroke-width="1.25"/>
<circle cx="570.0" cy="139.5" r="2.9" fill="none" stroke="#000" stroke-width="1.25"/>
<circle cx="510.0" cy="139.5" r="2.9" fill="none" stroke="#000" stroke-width="1.25"/>
<circle cx="525.5" cy="188.5" r="2.9" fill="none" stroke="#000" stroke-width="1.25"/>
<circle cx="531.5" cy="188.0" r="2.9" fill="none" stroke="#000" stroke-width="1.25"/>
<circle cx="539.0" cy="187.5" r="2.9" fill="none" stroke="#000" stroke-width="1.25"/>
<circle cx="539.0" cy="199.5" r="2.9" fill="none" stroke="#000" stroke-width="1.25"/>
<circle cx="566.0" cy="147.0" r="2.9" fill="none" stroke="#000" stroke-width="1.25"/>
<circle cx="567.5" cy="149.0" r="2.9" fill="none" stroke="#000" stroke-width="1.25"/>
<circle cx="557.0" cy="154.5" r="2.9" fill="none" stroke="#000" stroke-width="1.25"/>
<circle cx="563.0" cy="161.0" r="2.9" fill="none" stroke="#000" stroke-width="1.25"/>
<circle cx="574.5" cy="160.0" r="2.9" fill="none" stroke="#000" stroke-width="1.25"/>
<circle cx="556.0" cy="196.0" r="2.9" fill="none" stroke="#000" stroke-width="1.25"/>
<circle cx="613.5" cy="141.5" r="2.9" fill="none" stroke="#000" stroke-width="1.25"/>
<circle cx="616.0" cy="141.0" r="2.9" fill="none" stroke="#000" stroke-width="1.25"/>
<circle cx="621.0" cy="145.0" r="2.9" fill="none" stroke="#000" stroke-width="1.25"/>
<circle cx="608.0" cy="146.5" r="2.9" fill="none" stroke="#000" stroke-width="1.25"/>
<circle cx="607.5" cy="151.0" r="2.9" fill="none" stroke="#000" stroke-width="1.25"/>
<circle cx="601.5" cy="151.5" r="2.9" fill="none" stroke="#000" stroke-width="1.25"/>
<circle cx="596.0" cy="154.5" r="2.9" fill="none" stroke="#000" stroke-width="1.25"/>
<circle cx="600.5" cy="155.5" r="2.9" fill="none" stroke="#000" stroke-width="1.25"/>
<circle cx="600.5" cy="163.0" r="2.9" fill="none" stroke="#000" stroke-width="1.25"/>
<circle cx="591.5" cy="168.5" r="2.9" fill="none" stroke="#000" stroke-width="1.25"/>
<circle cx="643.0" cy="122.0" r="2.9" fill="none" stroke="#000" stroke-width="1.25"/>
<circle cx="661.0" cy="121.0" r="2.9" fill="none" stroke="#000" stroke-width="1.25"/>
<circle cx="601.5" cy="129.0" r="2.9" fill="none" stroke="#000" stroke-width="1.25"/>
<circle cx="731.0" cy="82.5" r="2.9" fill="none" stroke="#000" stroke-width="1.25"/>
<circle cx="740.5" cy="80.5" r="2.9" fill="none" stroke="#000" stroke-width="1.25"/>
<text x="431.00" y="230.00" font-size="14.6" font-weight="400" font-style="normal" text-anchor="start" stroke="#000" stroke-width="0.35" transform="rotate(-90 431 230)">Predicted concentration ( µg/L)</text>
<rect x="67" y="314.2" width="315.8" height="209.09999999999997" fill="none" stroke="#000" stroke-width="1.5"/>
<line x1="67.00" y1="418.50" x2="382.80" y2="418.50" stroke="#000" stroke-width="1.3" stroke-dasharray="1.9,1.1"/>
<line x1="376.30" y1="418.50" x2="382.80" y2="418.50" stroke="#000" stroke-width="1.5" />
<line x1="67.00" y1="523.30" x2="67.00" y2="529.80" stroke="#000" stroke-width="1.5" />
<g transform="translate(62.91 545.60) scale(0.92 1)" fill="#000" stroke="#000" stroke-width="0.3"><text x="0.000" y="0" font-size="16" font-weight="700">0</text></g>
<line x1="172.27" y1="523.30" x2="172.27" y2="529.80" stroke="#000" stroke-width="1.5" />
<line x1="172.27" y1="314.20" x2="172.27" y2="320.70" stroke="#000" stroke-width="1.5" />
<g transform="translate(164.08 545.60) scale(0.92 1)" fill="#000" stroke="#000" stroke-width="0.3"><path transform="translate(0.000 0)" d="M6.5,0 L6.5,-11.5 L4.6,-11.5 C3.9,-10.2 2.2,-9.2 0.25,-8.8 L0.25,-6.4 C1.5,-6.8 2.8,-7.4 3.9,-8.2 L3.9,0 Z"/><text x="8.896" y="0" font-size="16" font-weight="700">0</text></g>
<line x1="277.53" y1="523.30" x2="277.53" y2="529.80" stroke="#000" stroke-width="1.5" />
<line x1="277.53" y1="314.20" x2="277.53" y2="320.70" stroke="#000" stroke-width="1.5" />
<g transform="translate(269.35 545.60) scale(0.92 1)" fill="#000" stroke="#000" stroke-width="0.3"><text x="0.000" y="0" font-size="16" font-weight="700">2</text><text x="8.896" y="0" font-size="16" font-weight="700">0</text></g>
<line x1="382.80" y1="523.30" x2="382.80" y2="529.80" stroke="#000" stroke-width="1.5" />
<g transform="translate(374.62 545.60) scale(0.92 1)" fill="#000" stroke="#000" stroke-width="0.3"><text x="0.000" y="0" font-size="16" font-weight="700">3</text><text x="8.896" y="0" font-size="16" font-weight="700">0</text></g>
<line x1="60.50" y1="314.20" x2="67.00" y2="314.20" stroke="#000" stroke-width="1.5" />
<g transform="translate(42.63 319.80) scale(0.92 1)" fill="#000" stroke="#000" stroke-width="0.3"><text x="0.000" y="0" font-size="16" font-weight="700">5</text><text x="8.896" y="0" font-size="16" font-weight="700">0</text></g>
<line x1="60.50" y1="418.50" x2="67.00" y2="418.50" stroke="#000" stroke-width="1.5" />
<g transform="translate(50.82 424.10) scale(0.92 1)" fill="#000" stroke="#000" stroke-width="0.3"><text x="0.000" y="0" font-size="16" font-weight="700">0</text></g>
<line x1="60.50" y1="523.30" x2="67.00" y2="523.30" stroke="#000" stroke-width="1.5" />
<g transform="translate(37.73 528.90) scale(0.92 1)" fill="#000" stroke="#000" stroke-width="0.3"><text x="0.000" y="0" font-size="16" font-weight="700">-</text><text x="5.328" y="0" font-size="16" font-weight="700">5</text><text x="14.224" y="0" font-size="16" font-weight="700">0</text></g>
<text x="73.10" y="340.60" font-size="22" font-weight="700" font-style="normal" text-anchor="start" stroke="#000" stroke-width="0.4">(b)</text>
<text x="136.50" y="566.70" font-size="14.6" font-weight="400" font-style="normal" text-anchor="start" stroke="#000" stroke-width="0.35" >Predicted concentration ( µg/L)</text>
<text x="22.60" y="483.00" font-size="14.6" font-weight="400" font-style="normal" text-anchor="start" stroke="#000" stroke-width="0.35" transform="rotate(-90 22.6 483)">Residuals (µg/L)</text>
<circle cx="79.5" cy="423.2" r="3.45" fill="#000"/>
<circle cx="86.5" cy="423.6" r="3.45" fill="#000"/>
<circle cx="92.2" cy="424.0" r="3.45" fill="#000"/>
<circle cx="99.6" cy="426.3" r="3.45" fill="#000"/>
<circle cx="83.9" cy="414.4" r="3.45" fill="#000"/>
<circle cx="90.4" cy="413.1" r="3.45" fill="#000"/>
<circle cx="103.1" cy="412.7" r="3.45" fill="#000"/>
<circle cx="110.1" cy="413.1" r="3.45" fill="#000"/>
<circle cx="115.4" cy="411.0" r="3.45" fill="#000"/>
<circle cx="122.0" cy="409.6" r="3.45" fill="#000"/>
<circle cx="125.9" cy="413.1" r="3.45" fill="#000"/>
<circle cx="127.6" cy="421.9" r="3.45" fill="#000"/>
<circle cx="121.5" cy="421.0" r="3.45" fill="#000"/>
<circle cx="114.5" cy="421.9" r="3.45" fill="#000"/>
<circle cx="110.1" cy="425.4" r="3.45" fill="#000"/>
<circle cx="110.1" cy="429.8" r="3.45" fill="#000"/>
<circle cx="110.1" cy="435.0" r="3.45" fill="#000"/>
<circle cx="119.8" cy="425.8" r="3.45" fill="#000"/>
<circle cx="118.9" cy="429.8" r="3.45" fill="#000"/>
<circle cx="118.0" cy="435.0" r="3.45" fill="#000"/>
<circle cx="131.1" cy="435.0" r="3.45" fill="#000"/>
<circle cx="162.0" cy="400.0" r="3.45" fill="#000"/>
<circle cx="150.1" cy="408.1" r="3.45" fill="#000"/>
<circle cx="153.3" cy="405.6" r="3.45" fill="#000"/>
<circle cx="157.0" cy="406.3" r="3.45" fill="#000"/>
<circle cx="160.8" cy="405.0" r="3.45" fill="#000"/>
<circle cx="134.5" cy="411.3" r="3.45" fill="#000"/>
<circle cx="139.5" cy="408.8" r="3.45" fill="#000"/>
<circle cx="143.3" cy="410.6" r="3.45" fill="#000"/>
<circle cx="144.5" cy="413.8" r="3.45" fill="#000"/>
<circle cx="137.6" cy="417.5" r="3.45" fill="#000"/>
<circle cx="142.0" cy="420.0" r="3.45" fill="#000"/>
<circle cx="149.5" cy="420.0" r="3.45" fill="#000"/>
<circle cx="157.0" cy="422.5" r="3.45" fill="#000"/>
<circle cx="158.9" cy="415.6" r="3.45" fill="#000"/>
<circle cx="162.0" cy="417.5" r="3.45" fill="#000"/>
<circle cx="164.5" cy="422.5" r="3.45" fill="#000"/>
<circle cx="143.3" cy="424.4" r="3.45" fill="#000"/>
<circle cx="138.9" cy="428.1" r="3.45" fill="#000"/>
<circle cx="139.5" cy="437.5" r="3.45" fill="#000"/>
<circle cx="150.1" cy="435.0" r="3.45" fill="#000"/>
<circle cx="155.1" cy="440.0" r="3.45" fill="#000"/>
<circle cx="164.5" cy="442.5" r="3.45" fill="#000"/>
<circle cx="153.3" cy="448.1" r="3.45" fill="#000"/>
<circle cx="219.4" cy="392.5" r="3.45" fill="#000"/>
<circle cx="205.6" cy="396.3" r="3.45" fill="#000"/>
<circle cx="182.5" cy="399.4" r="3.45" fill="#000"/>
<circle cx="196.9" cy="400.6" r="3.45" fill="#000"/>
<circle cx="189.0" cy="404.4" r="3.45" fill="#000"/>
<circle cx="224.4" cy="400.6" r="3.45" fill="#000"/>
<circle cx="233.1" cy="402.3" r="3.45" fill="#000"/>
<circle cx="227.5" cy="406.3" r="3.45" fill="#000"/>
<circle cx="255.0" cy="391.9" r="3.45" fill="#000"/>
<circle cx="254.0" cy="408.1" r="3.45" fill="#000"/>
<circle cx="235.6" cy="415.0" r="3.45" fill="#000"/>
<circle cx="206.3" cy="406.9" r="3.45" fill="#000"/>
<circle cx="209.4" cy="408.8" r="3.45" fill="#000"/>
<circle cx="215.0" cy="406.3" r="3.45" fill="#000"/>
<circle cx="218.8" cy="408.1" r="3.45" fill="#000"/>
<circle cx="203.8" cy="412.5" r="3.45" fill="#000"/>
<circle cx="201.3" cy="416.3" r="3.45" fill="#000"/>
<circle cx="201.3" cy="420.0" r="3.45" fill="#000"/>
<circle cx="207.5" cy="414.4" r="3.45" fill="#000"/>
<circle cx="211.3" cy="415.0" r="3.45" fill="#000"/>
<circle cx="215.0" cy="414.4" r="3.45" fill="#000"/>
<circle cx="211.3" cy="422.5" r="3.45" fill="#000"/>
<circle cx="221.9" cy="413.8" r="3.45" fill="#000"/>
<circle cx="225.6" cy="415.6" r="3.45" fill="#000"/>
<circle cx="222.5" cy="419.4" r="3.45" fill="#000"/>
<circle cx="221.9" cy="425.0" r="3.45" fill="#000"/>
<circle cx="228.1" cy="421.9" r="3.45" fill="#000"/>
<circle cx="200.0" cy="426.3" r="3.45" fill="#000"/>
<circle cx="198.1" cy="431.3" r="3.45" fill="#000"/>
<circle cx="166.3" cy="405.0" r="3.45" fill="#000"/>
<circle cx="173.8" cy="408.1" r="3.45" fill="#000"/>
<circle cx="170.0" cy="414.4" r="3.45" fill="#000"/>
<circle cx="161.9" cy="414.4" r="3.45" fill="#000"/>
<circle cx="165.0" cy="418.8" r="3.45" fill="#000"/>
<circle cx="167.5" cy="421.3" r="3.45" fill="#000"/>
<circle cx="178.8" cy="417.5" r="3.45" fill="#000"/>
<circle cx="185.0" cy="416.3" r="3.45" fill="#000"/>
<circle cx="185.0" cy="420.0" r="3.45" fill="#000"/>
<circle cx="172.5" cy="426.9" r="3.45" fill="#000"/>
<circle cx="170.0" cy="436.9" r="3.45" fill="#000"/>
<circle cx="188.1" cy="438.1" r="3.45" fill="#000"/>
<circle cx="216.3" cy="438.1" r="3.45" fill="#000"/>
<circle cx="230.0" cy="436.9" r="3.45" fill="#000"/>
<circle cx="238.1" cy="433.1" r="3.45" fill="#000"/>
<circle cx="271.3" cy="389.9" r="3.45" fill="#000"/>
<circle cx="288.2" cy="378.0" r="3.45" fill="#000"/>
<circle cx="283.8" cy="397.4" r="3.45" fill="#000"/>
<circle cx="301.9" cy="394.4" r="3.45" fill="#000"/>
<circle cx="314.0" cy="385.8" r="3.45" fill="#000"/>
<circle cx="316.8" cy="394.6" r="3.45" fill="#000"/>
<circle cx="323.6" cy="370.0" r="3.45" fill="#000"/>
<circle cx="342.3" cy="395.7" r="3.45" fill="#000"/>
<circle cx="344.8" cy="408.2" r="3.45" fill="#000"/>
<circle cx="272.4" cy="424.3" r="3.45" fill="#000"/>
<circle cx="261.6" cy="435.6" r="3.45" fill="#000"/>
<circle cx="270.0" cy="437.3" r="3.45" fill="#000"/>
<circle cx="130.8" cy="443.8" r="3.45" fill="#000"/>
<circle cx="145.0" cy="464.3" r="3.45" fill="#000"/>
<circle cx="190.0" cy="440.8" r="3.45" fill="#000"/>
<circle cx="182.5" cy="451.7" r="3.45" fill="#000"/>
<circle cx="202.0" cy="459.8" r="3.45" fill="#000"/>
<circle cx="193.8" cy="468.2" r="3.45" fill="#000"/>
<circle cx="201.3" cy="468.2" r="3.45" fill="#000"/>
<circle cx="227.5" cy="453.0" r="3.45" fill="#000"/>
<circle cx="163.3" cy="405.4" r="3.45" fill="#000"/>
<circle cx="130.9" cy="419.4" r="3.45" fill="#000"/>
<circle cx="147.5" cy="419.4" r="3.45" fill="#000"/>
<circle cx="152.8" cy="421.1" r="3.45" fill="#000"/>
<circle cx="159.8" cy="413.3" r="3.45" fill="#000"/>
<circle cx="199.1" cy="416.8" r="3.45" fill="#000"/>
<circle cx="69.5" cy="418.5" r="3.45" fill="#000"/>
<circle cx="72.5" cy="418.2" r="3.45" fill="#000"/>
<circle cx="74.0" cy="419.8" r="3.45" fill="#000"/>
<circle cx="75.5" cy="417.9" r="3.45" fill="#000"/>
<circle cx="77.0" cy="419.8" r="3.45" fill="#000"/>
<circle cx="78.5" cy="417.5" r="3.45" fill="#000"/>
<circle cx="80.0" cy="419.8" r="3.45" fill="#000"/>
<circle cx="81.5" cy="417.2" r="3.45" fill="#000"/>
<circle cx="83.0" cy="419.7" r="3.45" fill="#000"/>
<circle cx="84.5" cy="416.8" r="3.45" fill="#000"/>
<circle cx="86.0" cy="419.7" r="3.45" fill="#000"/>
<circle cx="87.5" cy="416.5" r="3.45" fill="#000"/>
<circle cx="89.0" cy="419.7" r="3.45" fill="#000"/>
<circle cx="90.5" cy="416.1" r="3.45" fill="#000"/>
<circle cx="92.0" cy="419.7" r="3.45" fill="#000"/>
<circle cx="93.5" cy="415.8" r="3.45" fill="#000"/>
<circle cx="95.0" cy="419.7" r="3.45" fill="#000"/>
<circle cx="96.5" cy="415.4" r="3.45" fill="#000"/>
<circle cx="98.0" cy="419.7" r="3.45" fill="#000"/>
<circle cx="99.5" cy="415.1" r="3.45" fill="#000"/>
<circle cx="101.0" cy="419.6" r="3.45" fill="#000"/>
<circle cx="100.2" cy="417.7" r="3.45" fill="#000"/>
<circle cx="102.5" cy="414.7" r="3.45" fill="#000"/>
<circle cx="104.0" cy="419.6" r="3.45" fill="#000"/>
<circle cx="103.2" cy="417.5" r="3.45" fill="#000"/>
<circle cx="105.5" cy="414.4" r="3.45" fill="#000"/>
<circle cx="107.0" cy="419.6" r="3.45" fill="#000"/>
<circle cx="106.2" cy="417.3" r="3.45" fill="#000"/>
<circle cx="110.0" cy="419.6" r="3.45" fill="#000"/>
<circle cx="109.2" cy="417.1" r="3.45" fill="#000"/>
<circle cx="113.0" cy="419.6" r="3.45" fill="#000"/>
<circle cx="112.2" cy="416.9" r="3.45" fill="#000"/>
<circle cx="114.5" cy="413.4" r="3.45" fill="#000"/>
<circle cx="116.0" cy="419.6" r="3.45" fill="#000"/>
<circle cx="115.2" cy="416.8" r="3.45" fill="#000"/>
<circle cx="117.5" cy="413.0" r="3.45" fill="#000"/>
<circle cx="119.0" cy="419.6" r="3.45" fill="#000"/>
<circle cx="118.2" cy="416.6" r="3.45" fill="#000"/>
<circle cx="120.5" cy="412.7" r="3.45" fill="#000"/>
<circle cx="121.2" cy="416.4" r="3.45" fill="#000"/>
<circle cx="123.5" cy="412.3" r="3.45" fill="#000"/>
<circle cx="125.0" cy="419.5" r="3.45" fill="#000"/>
<circle cx="124.2" cy="416.2" r="3.45" fill="#000"/>
<circle cx="128.0" cy="419.5" r="3.45" fill="#000"/>
<circle cx="127.2" cy="416.1" r="3.45" fill="#000"/>
<rect x="469" y="312.9" width="312" height="208.39999999999998" fill="none" stroke="#000" stroke-width="1.5"/>
<line x1="469.00" y1="417.00" x2="781.00" y2="417.00" stroke="#000" stroke-width="1.3" stroke-dasharray="1.9,1.1"/>
<line x1="774.50" y1="417.00" x2="781.00" y2="417.00" stroke="#000" stroke-width="1.5" />
<line x1="469.00" y1="521.30" x2="469.00" y2="527.80" stroke="#000" stroke-width="1.5" />
<g transform="translate(464.91 543.60) scale(0.92 1)" fill="#000" stroke="#000" stroke-width="0.3"><text x="0.000" y="0" font-size="16" font-weight="700">0</text></g>
<line x1="547.00" y1="521.30" x2="547.00" y2="527.80" stroke="#000" stroke-width="1.5" />
<line x1="547.00" y1="312.90" x2="547.00" y2="319.40" stroke="#000" stroke-width="1.5" />
<g transform="translate(538.82 543.60) scale(0.92 1)" fill="#000" stroke="#000" stroke-width="0.3"><path transform="translate(0.000 0)" d="M6.5,0 L6.5,-11.5 L4.6,-11.5 C3.9,-10.2 2.2,-9.2 0.25,-8.8 L0.25,-6.4 C1.5,-6.8 2.8,-7.4 3.9,-8.2 L3.9,0 Z"/><text x="8.896" y="0" font-size="16" font-weight="700">0</text></g>
<line x1="625.00" y1="521.30" x2="625.00" y2="527.80" stroke="#000" stroke-width="1.5" />
<line x1="625.00" y1="312.90" x2="625.00" y2="319.40" stroke="#000" stroke-width="1.5" />
<g transform="translate(616.82 543.60) scale(0.92 1)" fill="#000" stroke="#000" stroke-width="0.3"><text x="0.000" y="0" font-size="16" font-weight="700">2</text><text x="8.896" y="0" font-size="16" font-weight="700">0</text></g>
<line x1="703.00" y1="521.30" x2="703.00" y2="527.80" stroke="#000" stroke-width="1.5" />
<line x1="703.00" y1="312.90" x2="703.00" y2="319.40" stroke="#000" stroke-width="1.5" />
<g transform="translate(694.82 543.60) scale(0.92 1)" fill="#000" stroke="#000" stroke-width="0.3"><text x="0.000" y="0" font-size="16" font-weight="700">3</text><text x="8.896" y="0" font-size="16" font-weight="700">0</text></g>
<line x1="781.00" y1="521.30" x2="781.00" y2="527.80" stroke="#000" stroke-width="1.5" />
<g transform="translate(772.82 543.60) scale(0.92 1)" fill="#000" stroke="#000" stroke-width="0.3"><text x="0.000" y="0" font-size="16" font-weight="700">4</text><text x="8.896" y="0" font-size="16" font-weight="700">0</text></g>
<line x1="462.50" y1="312.90" x2="469.00" y2="312.90" stroke="#000" stroke-width="1.5" />
<g transform="translate(444.63 318.50) scale(0.92 1)" fill="#000" stroke="#000" stroke-width="0.3"><text x="0.000" y="0" font-size="16" font-weight="700">5</text><text x="8.896" y="0" font-size="16" font-weight="700">0</text></g>
<line x1="462.50" y1="417.00" x2="469.00" y2="417.00" stroke="#000" stroke-width="1.5" />
<g transform="translate(452.82 422.60) scale(0.92 1)" fill="#000" stroke="#000" stroke-width="0.3"><text x="0.000" y="0" font-size="16" font-weight="700">0</text></g>
<line x1="462.50" y1="521.30" x2="469.00" y2="521.30" stroke="#000" stroke-width="1.5" />
<g transform="translate(439.73 526.90) scale(0.92 1)" fill="#000" stroke="#000" stroke-width="0.3"><text x="0.000" y="0" font-size="16" font-weight="700">-</text><text x="5.328" y="0" font-size="16" font-weight="700">5</text><text x="14.224" y="0" font-size="16" font-weight="700">0</text></g>
<text x="472.10" y="340.20" font-size="22" font-weight="700" font-style="normal" text-anchor="start" stroke="#000" stroke-width="0.4">(e)</text>
<text x="540.30" y="566.50" font-size="14.6" font-weight="400" font-style="normal" text-anchor="start" stroke="#000" stroke-width="0.35" >Predicted concentration ( µg/L)</text>
<text x="432.80" y="465.00" font-size="14.6" font-weight="400" font-style="normal" text-anchor="start" stroke="#000" stroke-width="0.35" transform="rotate(-90 432.8 465)">Residuals (µg/L)</text>
<circle cx="515.5" cy="429.0" r="2.9" fill="none" stroke="#000" stroke-width="1.25"/>
<circle cx="522.8" cy="429.5" r="2.9" fill="none" stroke="#000" stroke-width="1.25"/>
<circle cx="536.0" cy="423.0" r="2.9" fill="none" stroke="#000" stroke-width="1.25"/>
<circle cx="520.5" cy="419.5" r="2.9" fill="none" stroke="#000" stroke-width="1.25"/>
<circle cx="505.5" cy="420.5" r="2.9" fill="none" stroke="#000" stroke-width="1.25"/>
<circle cx="498.0" cy="419.5" r="2.9" fill="none" stroke="#000" stroke-width="1.25"/>
<circle cx="492.0" cy="420.0" r="2.9" fill="none" stroke="#000" stroke-width="1.25"/>
<circle cx="539.5" cy="402.5" r="2.9" fill="none" stroke="#000" stroke-width="1.25"/>
<circle cx="540.5" cy="406.5" r="2.9" fill="none" stroke="#000" stroke-width="1.25"/>
<circle cx="535.0" cy="405.0" r="2.9" fill="none" stroke="#000" stroke-width="1.25"/>
<circle cx="525.0" cy="404.5" r="2.9" fill="none" stroke="#000" stroke-width="1.25"/>
<circle cx="519.5" cy="405.5" r="2.9" fill="none" stroke="#000" stroke-width="1.25"/>
<circle cx="534.0" cy="418.0" r="2.9" fill="none" stroke="#000" stroke-width="1.25"/>
<circle cx="531.0" cy="412.0" r="2.9" fill="none" stroke="#000" stroke-width="1.25"/>
<circle cx="544.0" cy="414.0" r="2.9" fill="none" stroke="#000" stroke-width="1.25"/>
<circle cx="612.5" cy="383.0" r="2.9" fill="none" stroke="#000" stroke-width="1.25"/>
<circle cx="606.5" cy="386.0" r="2.9" fill="none" stroke="#000" stroke-width="1.25"/>
<circle cx="603.0" cy="385.5" r="2.9" fill="none" stroke="#000" stroke-width="1.25"/>
<circle cx="600.5" cy="390.0" r="2.9" fill="none" stroke="#000" stroke-width="1.25"/>
<circle cx="593.5" cy="389.0" r="2.9" fill="none" stroke="#000" stroke-width="1.25"/>
<circle cx="593.0" cy="394.0" r="2.9" fill="none" stroke="#000" stroke-width="1.25"/>
<circle cx="573.5" cy="389.5" r="2.9" fill="none" stroke="#000" stroke-width="1.25"/>
<circle cx="577.5" cy="392.0" r="2.9" fill="none" stroke="#000" stroke-width="1.25"/>
<circle cx="570.0" cy="395.5" r="2.9" fill="none" stroke="#000" stroke-width="1.25"/>
<circle cx="568.0" cy="397.0" r="2.9" fill="none" stroke="#000" stroke-width="1.25"/>
<circle cx="563.5" cy="400.0" r="2.9" fill="none" stroke="#000" stroke-width="1.25"/>
<circle cx="580.5" cy="398.5" r="2.9" fill="none" stroke="#000" stroke-width="1.25"/>
<circle cx="586.5" cy="399.5" r="2.9" fill="none" stroke="#000" stroke-width="1.25"/>
<circle cx="583.5" cy="401.5" r="2.9" fill="none" stroke="#000" stroke-width="1.25"/>
<circle cx="589.5" cy="405.5" r="2.9" fill="none" stroke="#000" stroke-width="1.25"/>
<circle cx="596.5" cy="402.5" r="2.9" fill="none" stroke="#000" stroke-width="1.25"/>
<circle cx="602.0" cy="397.0" r="2.9" fill="none" stroke="#000" stroke-width="1.25"/>
<circle cx="612.5" cy="395.5" r="2.9" fill="none" stroke="#000" stroke-width="1.25"/>
<circle cx="617.0" cy="393.5" r="2.9" fill="none" stroke="#000" stroke-width="1.25"/>
<circle cx="608.0" cy="401.5" r="2.9" fill="none" stroke="#000" stroke-width="1.25"/>
<circle cx="605.0" cy="406.0" r="2.9" fill="none" stroke="#000" stroke-width="1.25"/>
<circle cx="611.5" cy="407.0" r="2.9" fill="none" stroke="#000" stroke-width="1.25"/>
<circle cx="610.0" cy="412.0" r="2.9" fill="none" stroke="#000" stroke-width="1.25"/>
<circle cx="617.5" cy="404.0" r="2.9" fill="none" stroke="#000" stroke-width="1.25"/>
<circle cx="618.5" cy="408.0" r="2.9" fill="none" stroke="#000" stroke-width="1.25"/>
<circle cx="615.5" cy="417.0" r="2.9" fill="none" stroke="#000" stroke-width="1.25"/>
<circle cx="573.0" cy="405.5" r="2.9" fill="none" stroke="#000" stroke-width="1.25"/>
<circle cx="573.0" cy="411.0" r="2.9" fill="none" stroke="#000" stroke-width="1.25"/>
<circle cx="568.0" cy="411.0" r="2.9" fill="none" stroke="#000" stroke-width="1.25"/>
<circle cx="575.5" cy="417.5" r="2.9" fill="none" stroke="#000" stroke-width="1.25"/>
<circle cx="579.5" cy="417.0" r="2.9" fill="none" stroke="#000" stroke-width="1.25"/>
<circle cx="586.5" cy="424.0" r="2.9" fill="none" stroke="#000" stroke-width="1.25"/>
<circle cx="593.0" cy="422.0" r="2.9" fill="none" stroke="#000" stroke-width="1.25"/>
<circle cx="555.5" cy="400.0" r="2.9" fill="none" stroke="#000" stroke-width="1.25"/>
<circle cx="548.0" cy="401.0" r="2.9" fill="none" stroke="#000" stroke-width="1.25"/>
<circle cx="550.0" cy="403.0" r="2.9" fill="none" stroke="#000" stroke-width="1.25"/>
<circle cx="542.0" cy="403.0" r="2.9" fill="none" stroke="#000" stroke-width="1.25"/>
<circle cx="547.0" cy="411.0" r="2.9" fill="none" stroke="#000" stroke-width="1.25"/>
<circle cx="546.0" cy="415.0" r="2.9" fill="none" stroke="#000" stroke-width="1.25"/>
<circle cx="549.5" cy="416.0" r="2.9" fill="none" stroke="#000" stroke-width="1.25"/>
<circle cx="556.0" cy="413.0" r="2.9" fill="none" stroke="#000" stroke-width="1.25"/>
<circle cx="558.0" cy="416.0" r="2.9" fill="none" stroke="#000" stroke-width="1.25"/>
<circle cx="560.0" cy="408.0" r="2.9" fill="none" stroke="#000" stroke-width="1.25"/>
<circle cx="562.5" cy="404.0" r="2.9" fill="none" stroke="#000" stroke-width="1.25"/>
<circle cx="565.0" cy="403.0" r="2.9" fill="none" stroke="#000" stroke-width="1.25"/>
<circle cx="567.0" cy="404.5" r="2.9" fill="none" stroke="#000" stroke-width="1.25"/>
<circle cx="558.0" cy="404.0" r="2.9" fill="none" stroke="#000" stroke-width="1.25"/>
<circle cx="669.6" cy="366.6" r="2.9" fill="none" stroke="#000" stroke-width="1.25"/>
<circle cx="667.4" cy="375.9" r="2.9" fill="none" stroke="#000" stroke-width="1.25"/>
<circle cx="682.6" cy="373.6" r="2.9" fill="none" stroke="#000" stroke-width="1.25"/>
<circle cx="680.9" cy="380.4" r="2.9" fill="none" stroke="#000" stroke-width="1.25"/>
<circle cx="685.9" cy="381.5" r="2.9" fill="none" stroke="#000" stroke-width="1.25"/>
<circle cx="695.5" cy="378.7" r="2.9" fill="none" stroke="#000" stroke-width="1.25"/>
<circle cx="698.3" cy="380.9" r="2.9" fill="none" stroke="#000" stroke-width="1.25"/>
<circle cx="651.6" cy="379.0" r="2.9" fill="none" stroke="#000" stroke-width="1.25"/>
<circle cx="654.4" cy="379.0" r="2.9" fill="none" stroke="#000" stroke-width="1.25"/>
<circle cx="662.3" cy="382.0" r="2.9" fill="none" stroke="#000" stroke-width="1.25"/>
<circle cx="664.0" cy="386.0" r="2.9" fill="none" stroke="#000" stroke-width="1.25"/>
<circle cx="653.3" cy="392.2" r="2.9" fill="none" stroke="#000" stroke-width="1.25"/>
<circle cx="679.7" cy="388.8" r="2.9" fill="none" stroke="#000" stroke-width="1.25"/>
<circle cx="680.3" cy="395.0" r="2.9" fill="none" stroke="#000" stroke-width="1.25"/>
<circle cx="622.4" cy="393.3" r="2.9" fill="none" stroke="#000" stroke-width="1.25"/>
<circle cx="629.1" cy="393.3" r="2.9" fill="none" stroke="#000" stroke-width="1.25"/>
<circle cx="631.4" cy="400.6" r="2.9" fill="none" stroke="#000" stroke-width="1.25"/>
<circle cx="619.0" cy="404.0" r="2.9" fill="none" stroke="#000" stroke-width="1.25"/>
<circle cx="620.7" cy="407.4" r="2.9" fill="none" stroke="#000" stroke-width="1.25"/>
<circle cx="621.8" cy="409.6" r="2.9" fill="none" stroke="#000" stroke-width="1.25"/>
<circle cx="643.2" cy="407.4" r="2.9" fill="none" stroke="#000" stroke-width="1.25"/>
<circle cx="655.6" cy="412.4" r="2.9" fill="none" stroke="#000" stroke-width="1.25"/>
<circle cx="669.0" cy="409.6" r="2.9" fill="none" stroke="#000" stroke-width="1.25"/>
<circle cx="648.4" cy="417.8" r="2.9" fill="none" stroke="#000" stroke-width="1.25"/>
<circle cx="631.5" cy="423.1" r="2.9" fill="none" stroke="#000" stroke-width="1.25"/>
<circle cx="640.5" cy="421.9" r="2.9" fill="none" stroke="#000" stroke-width="1.25"/>
<circle cx="643.3" cy="425.9" r="2.9" fill="none" stroke="#000" stroke-width="1.25"/>
<circle cx="641.6" cy="430.4" r="2.9" fill="none" stroke="#000" stroke-width="1.25"/>
<circle cx="651.2" cy="434.6" r="2.9" fill="none" stroke="#000" stroke-width="1.25"/>
<circle cx="677.0" cy="435.8" r="2.9" fill="none" stroke="#000" stroke-width="1.25"/>
<circle cx="690.6" cy="426.8" r="2.9" fill="none" stroke="#000" stroke-width="1.25"/>
<circle cx="614.1" cy="446.1" r="2.9" fill="none" stroke="#000" stroke-width="1.25"/>
<circle cx="610.1" cy="455.1" r="2.9" fill="none" stroke="#000" stroke-width="1.25"/>
<circle cx="600.6" cy="443.9" r="2.9" fill="none" stroke="#000" stroke-width="1.25"/>
<circle cx="620.8" cy="406.2" r="2.9" fill="none" stroke="#000" stroke-width="1.25"/>
<circle cx="622.5" cy="411.3" r="2.9" fill="none" stroke="#000" stroke-width="1.25"/>
<circle cx="606.8" cy="401.1" r="2.9" fill="none" stroke="#000" stroke-width="1.25"/>
<circle cx="535.2" cy="436.4" r="2.9" fill="none" stroke="#000" stroke-width="1.25"/>
<circle cx="553.8" cy="427.6" r="2.9" fill="none" stroke="#000" stroke-width="1.25"/>
<circle cx="560.5" cy="425.9" r="2.9" fill="none" stroke="#000" stroke-width="1.25"/>
<circle cx="558.8" cy="436.6" r="2.9" fill="none" stroke="#000" stroke-width="1.25"/>
<circle cx="556.0" cy="441.7" r="2.9" fill="none" stroke="#000" stroke-width="1.25"/>
<circle cx="569.5" cy="433.8" r="2.9" fill="none" stroke="#000" stroke-width="1.25"/>
<circle cx="594.3" cy="439.4" r="2.9" fill="none" stroke="#000" stroke-width="1.25"/>
<circle cx="598.5" cy="443.6" r="2.9" fill="none" stroke="#000" stroke-width="1.25"/>
<circle cx="709.9" cy="354.9" r="2.9" fill="none" stroke="#000" stroke-width="1.25"/>
<circle cx="710.3" cy="368.8" r="2.9" fill="none" stroke="#000" stroke-width="1.25"/>
<circle cx="720.7" cy="366.8" r="2.9" fill="none" stroke="#000" stroke-width="1.25"/>
<circle cx="746.7" cy="369.4" r="2.9" fill="none" stroke="#000" stroke-width="1.25"/>
<circle cx="723.6" cy="379.1" r="2.9" fill="none" stroke="#000" stroke-width="1.25"/>
<circle cx="734.0" cy="377.9" r="2.9" fill="none" stroke="#000" stroke-width="1.25"/>
<circle cx="742.5" cy="388.6" r="2.9" fill="none" stroke="#000" stroke-width="1.25"/>
<circle cx="681.3" cy="394.3" r="2.9" fill="none" stroke="#000" stroke-width="1.25"/>
<circle cx="520.0" cy="409.0" r="2.9" fill="none" stroke="#000" stroke-width="1.25"/>
<circle cx="524.0" cy="411.0" r="2.9" fill="none" stroke="#000" stroke-width="1.25"/>
<circle cx="528.0" cy="408.0" r="2.9" fill="none" stroke="#000" stroke-width="1.25"/>
<circle cx="531.0" cy="410.5" r="2.9" fill="none" stroke="#000" stroke-width="1.25"/>
<circle cx="526.0" cy="413.0" r="2.9" fill="none" stroke="#000" stroke-width="1.25"/>
<circle cx="533.0" cy="407.0" r="2.9" fill="none" stroke="#000" stroke-width="1.25"/>
<circle cx="521.0" cy="413.5" r="2.9" fill="none" stroke="#000" stroke-width="1.25"/>
<circle cx="523.6" cy="405.0" r="2.9" fill="none" stroke="#000" stroke-width="1.25"/>
<circle cx="555.1" cy="398.4" r="2.9" fill="none" stroke="#000" stroke-width="1.25"/>
<circle cx="563.0" cy="398.9" r="2.9" fill="none" stroke="#000" stroke-width="1.25"/>
<circle cx="568.2" cy="395.4" r="2.9" fill="none" stroke="#000" stroke-width="1.25"/>
<circle cx="567.4" cy="400.6" r="2.9" fill="none" stroke="#000" stroke-width="1.25"/>
<circle cx="545.5" cy="413.8" r="2.9" fill="none" stroke="#000" stroke-width="1.25"/>
<circle cx="557.8" cy="414.6" r="2.9" fill="none" stroke="#000" stroke-width="1.25"/>
<circle cx="559.5" cy="406.8" r="2.9" fill="none" stroke="#000" stroke-width="1.25"/>
<circle cx="508.8" cy="406.8" r="2.9" fill="none" stroke="#000" stroke-width="1.25"/>
<circle cx="503.5" cy="408.5" r="2.9" fill="none" stroke="#000" stroke-width="1.25"/>
<circle cx="470.2" cy="417.0" r="2.9" fill="none" stroke="#000" stroke-width="1.25"/>
<circle cx="471.8" cy="417.0" r="2.9" fill="none" stroke="#000" stroke-width="1.25"/>
<circle cx="473.8" cy="416.8" r="2.9" fill="none" stroke="#000" stroke-width="1.25"/>
<circle cx="476.0" cy="416.9" r="2.9" fill="none" stroke="#000" stroke-width="1.25"/>
<circle cx="477.8" cy="416.4" r="2.9" fill="none" stroke="#000" stroke-width="1.25"/>
<circle cx="480.2" cy="415.0" r="2.9" fill="none" stroke="#000" stroke-width="1.25"/>
<circle cx="480.4" cy="417.3" r="2.9" fill="none" stroke="#000" stroke-width="1.25"/>
<circle cx="482.9" cy="414.5" r="2.9" fill="none" stroke="#000" stroke-width="1.25"/>
<circle cx="483.0" cy="416.7" r="2.9" fill="none" stroke="#000" stroke-width="1.25"/>
<circle cx="484.3" cy="415.6" r="2.9" fill="none" stroke="#000" stroke-width="1.25"/>
<circle cx="485.5" cy="415.5" r="2.9" fill="none" stroke="#000" stroke-width="1.25"/>
<circle cx="486.4" cy="417.1" r="2.9" fill="none" stroke="#000" stroke-width="1.25"/>
<circle cx="488.2" cy="414.4" r="2.9" fill="none" stroke="#000" stroke-width="1.25"/>
<circle cx="489.4" cy="414.5" r="2.9" fill="none" stroke="#000" stroke-width="1.25"/>
<circle cx="490.7" cy="414.4" r="2.9" fill="none" stroke="#000" stroke-width="1.25"/>
<circle cx="491.2" cy="416.5" r="2.9" fill="none" stroke="#000" stroke-width="1.25"/>
<circle cx="492.1" cy="417.8" r="2.9" fill="none" stroke="#000" stroke-width="1.25"/>
<circle cx="493.9" cy="414.5" r="2.9" fill="none" stroke="#000" stroke-width="1.25"/>
<circle cx="495.3" cy="415.1" r="2.9" fill="none" stroke="#000" stroke-width="1.25"/>
<circle cx="495.8" cy="411.1" r="2.9" fill="none" stroke="#000" stroke-width="1.25"/>
<circle cx="496.0" cy="416.5" r="2.9" fill="none" stroke="#000" stroke-width="1.25"/>
<circle cx="497.8" cy="416.4" r="2.9" fill="none" stroke="#000" stroke-width="1.25"/>
<circle cx="499.6" cy="416.3" r="2.9" fill="none" stroke="#000" stroke-width="1.25"/>
<circle cx="498.7" cy="413.2" r="2.9" fill="none" stroke="#000" stroke-width="1.25"/>
<circle cx="500.7" cy="412.4" r="2.9" fill="none" stroke="#000" stroke-width="1.25"/>
<circle cx="502.4" cy="418.7" r="2.9" fill="none" stroke="#000" stroke-width="1.25"/>
<circle cx="503.1" cy="414.3" r="2.9" fill="none" stroke="#000" stroke-width="1.25"/>
<circle cx="504.0" cy="411.0" r="2.9" fill="none" stroke="#000" stroke-width="1.25"/>
<circle cx="505.6" cy="414.3" r="2.9" fill="none" stroke="#000" stroke-width="1.25"/>
<circle cx="505.4" cy="412.9" r="2.9" fill="none" stroke="#000" stroke-width="1.25"/>
<circle cx="506.6" cy="412.3" r="2.9" fill="none" stroke="#000" stroke-width="1.25"/>
<circle cx="508.7" cy="416.6" r="2.9" fill="none" stroke="#000" stroke-width="1.25"/>
<circle cx="510.4" cy="413.9" r="2.9" fill="none" stroke="#000" stroke-width="1.25"/>
<circle cx="510.6" cy="416.4" r="2.9" fill="none" stroke="#000" stroke-width="1.25"/>
<circle cx="512.4" cy="415.1" r="2.9" fill="none" stroke="#000" stroke-width="1.25"/>
<circle cx="513.1" cy="417.5" r="2.9" fill="none" stroke="#000" stroke-width="1.25"/>
<circle cx="513.9" cy="412.9" r="2.9" fill="none" stroke="#000" stroke-width="1.25"/>
<circle cx="515.9" cy="415.0" r="2.9" fill="none" stroke="#000" stroke-width="1.25"/>
<circle cx="516.3" cy="411.4" r="2.9" fill="none" stroke="#000" stroke-width="1.25"/>
<circle cx="518.7" cy="411.8" r="2.9" fill="none" stroke="#000" stroke-width="1.25"/>
<circle cx="519.2" cy="414.5" r="2.9" fill="none" stroke="#000" stroke-width="1.25"/>
<circle cx="520.6" cy="414.6" r="2.9" fill="none" stroke="#000" stroke-width="1.25"/>
<circle cx="521.7" cy="407.8" r="2.9" fill="none" stroke="#000" stroke-width="1.25"/>
<circle cx="522.8" cy="412.8" r="2.9" fill="none" stroke="#000" stroke-width="1.25"/>
<circle cx="524.3" cy="415.7" r="2.9" fill="none" stroke="#000" stroke-width="1.25"/>
<circle cx="523.8" cy="409.2" r="2.9" fill="none" stroke="#000" stroke-width="1.25"/>
<circle cx="525.8" cy="408.0" r="2.9" fill="none" stroke="#000" stroke-width="1.25"/>
<circle cx="528.9" cy="406.6" r="2.9" fill="none" stroke="#000" stroke-width="1.25"/>
<circle cx="529.2" cy="413.6" r="2.9" fill="none" stroke="#000" stroke-width="1.25"/>
<circle cx="531.0" cy="408.5" r="2.9" fill="none" stroke="#000" stroke-width="1.25"/>
<circle cx="530.3" cy="414.2" r="2.9" fill="none" stroke="#000" stroke-width="1.25"/>
<rect x="67" y="600.8" width="315.8" height="208.9000000000001" fill="none" stroke="#000" stroke-width="1.5"/>
<line x1="67.00" y1="705.00" x2="382.80" y2="705.00" stroke="#000" stroke-width="1.3" stroke-dasharray="1.9,1.1"/>
<line x1="376.30" y1="705.00" x2="382.80" y2="705.00" stroke="#000" stroke-width="1.5" />
<line x1="67.00" y1="809.70" x2="67.00" y2="816.20" stroke="#000" stroke-width="1.5" />
<g transform="translate(62.91 832.00) scale(0.92 1)" fill="#000" stroke="#000" stroke-width="0.3"><text x="0.000" y="0" font-size="16" font-weight="700">0</text></g>
<line x1="164.17" y1="809.70" x2="164.17" y2="816.20" stroke="#000" stroke-width="1.5" />
<line x1="164.17" y1="600.80" x2="164.17" y2="607.30" stroke="#000" stroke-width="1.5" />
<g transform="translate(160.08 832.00) scale(0.92 1)" fill="#000" stroke="#000" stroke-width="0.3"><text x="0.000" y="0" font-size="16" font-weight="700">4</text></g>
<line x1="261.34" y1="809.70" x2="261.34" y2="816.20" stroke="#000" stroke-width="1.5" />
<line x1="261.34" y1="600.80" x2="261.34" y2="607.30" stroke="#000" stroke-width="1.5" />
<g transform="translate(257.25 832.00) scale(0.92 1)" fill="#000" stroke="#000" stroke-width="0.3"><text x="0.000" y="0" font-size="16" font-weight="700">8</text></g>
<line x1="358.51" y1="809.70" x2="358.51" y2="816.20" stroke="#000" stroke-width="1.5" />
<line x1="358.51" y1="600.80" x2="358.51" y2="607.30" stroke="#000" stroke-width="1.5" />
<g transform="translate(350.32 832.00) scale(0.92 1)" fill="#000" stroke="#000" stroke-width="0.3"><path transform="translate(0.000 0)" d="M6.5,0 L6.5,-11.5 L4.6,-11.5 C3.9,-10.2 2.2,-9.2 0.25,-8.8 L0.25,-6.4 C1.5,-6.8 2.8,-7.4 3.9,-8.2 L3.9,0 Z"/><text x="8.896" y="0" font-size="16" font-weight="700">2</text></g>
<line x1="60.50" y1="600.80" x2="67.00" y2="600.80" stroke="#000" stroke-width="1.5" />
<g transform="translate(42.63 606.40) scale(0.92 1)" fill="#000" stroke="#000" stroke-width="0.3"><text x="0.000" y="0" font-size="16" font-weight="700">5</text><text x="8.896" y="0" font-size="16" font-weight="700">0</text></g>
<line x1="60.50" y1="705.00" x2="67.00" y2="705.00" stroke="#000" stroke-width="1.5" />
<g transform="translate(50.82 710.60) scale(0.92 1)" fill="#000" stroke="#000" stroke-width="0.3"><text x="0.000" y="0" font-size="16" font-weight="700">0</text></g>
<line x1="60.50" y1="809.70" x2="67.00" y2="809.70" stroke="#000" stroke-width="1.5" />
<g transform="translate(37.73 815.30) scale(0.92 1)" fill="#000" stroke="#000" stroke-width="0.3"><text x="0.000" y="0" font-size="16" font-weight="700">-</text><text x="5.328" y="0" font-size="16" font-weight="700">5</text><text x="14.224" y="0" font-size="16" font-weight="700">0</text></g>
<text x="73.10" y="627.80" font-size="22" font-weight="700" font-style="normal" text-anchor="start" stroke="#000" stroke-width="0.4">(c)</text>
<text x="195.00" y="852.60" font-size="14.6" font-weight="400" font-style="normal" text-anchor="start" stroke="#000" stroke-width="0.35" >Time (h)</text>
<text x="23.00" y="769.00" font-size="14.6" font-weight="400" font-style="normal" text-anchor="start" stroke="#000" stroke-width="0.35" transform="rotate(-90 23 769)">Residuals (µg/L)</text>
<circle cx="72.7" cy="682.8" r="3.45" fill="#000"/>
<circle cx="72.7" cy="687.0" r="3.45" fill="#000"/>
<circle cx="72.7" cy="691.2" r="3.45" fill="#000"/>
<circle cx="72.7" cy="695.4" r="3.45" fill="#000"/>
<circle cx="72.7" cy="700.6" r="3.45" fill="#000"/>
<circle cx="72.7" cy="705.0" r="3.45" fill="#000"/>
<circle cx="72.7" cy="708.0" r="3.45" fill="#000"/>
<circle cx="72.7" cy="721.8" r="3.45" fill="#000"/>
<circle cx="72.7" cy="725.1" r="3.45" fill="#000"/>
<circle cx="72.7" cy="750.8" r="3.45" fill="#000"/>
<circle cx="78.9" cy="679.3" r="3.45" fill="#000"/>
<circle cx="78.9" cy="685.3" r="3.45" fill="#000"/>
<circle cx="78.9" cy="689.1" r="3.45" fill="#000"/>
<circle cx="78.9" cy="694.0" r="3.45" fill="#000"/>
<circle cx="78.9" cy="698.0" r="3.45" fill="#000"/>
<circle cx="78.9" cy="704.3" r="3.45" fill="#000"/>
<circle cx="78.9" cy="707.1" r="3.45" fill="#000"/>
<circle cx="78.9" cy="712.9" r="3.45" fill="#000"/>
<circle cx="78.9" cy="723.9" r="3.45" fill="#000"/>
<circle cx="78.9" cy="754.5" r="3.45" fill="#000"/>
<circle cx="85.1" cy="656.2" r="3.45" fill="#000"/>
<circle cx="85.1" cy="672.3" r="3.45" fill="#000"/>
<circle cx="85.1" cy="676.5" r="3.45" fill="#000"/>
<circle cx="85.1" cy="680.0" r="3.45" fill="#000"/>
<circle cx="85.1" cy="685.3" r="3.45" fill="#000"/>
<circle cx="85.1" cy="689.3" r="3.45" fill="#000"/>
<circle cx="85.1" cy="694.7" r="3.45" fill="#000"/>
<circle cx="85.1" cy="700.5" r="3.45" fill="#000"/>
<circle cx="85.1" cy="705.4" r="3.45" fill="#000"/>
<circle cx="85.1" cy="708.4" r="3.45" fill="#000"/>
<circle cx="85.1" cy="711.6" r="3.45" fill="#000"/>
<circle cx="85.1" cy="720.2" r="3.45" fill="#000"/>
<circle cx="85.1" cy="739.8" r="3.45" fill="#000"/>
<circle cx="85.1" cy="746.7" r="3.45" fill="#000"/>
<circle cx="91.3" cy="664.3" r="3.45" fill="#000"/>
<circle cx="91.3" cy="677.9" r="3.45" fill="#000"/>
<circle cx="91.3" cy="682.8" r="3.45" fill="#000"/>
<circle cx="91.3" cy="687.0" r="3.45" fill="#000"/>
<circle cx="91.3" cy="694.0" r="3.45" fill="#000"/>
<circle cx="91.3" cy="700.2" r="3.45" fill="#000"/>
<circle cx="91.3" cy="703.5" r="3.45" fill="#000"/>
<circle cx="91.3" cy="708.8" r="3.45" fill="#000"/>
<circle cx="91.3" cy="721.0" r="3.45" fill="#000"/>
<circle cx="91.3" cy="724.3" r="3.45" fill="#000"/>
<circle cx="91.3" cy="727.6" r="3.45" fill="#000"/>
<circle cx="91.3" cy="738.2" r="3.45" fill="#000"/>
<circle cx="103.5" cy="679.2" r="3.45" fill="#000"/>
<circle cx="103.5" cy="687.6" r="3.45" fill="#000"/>
<circle cx="103.5" cy="692.2" r="3.45" fill="#000"/>
<circle cx="103.5" cy="701.1" r="3.45" fill="#000"/>
<circle cx="103.5" cy="736.6" r="3.45" fill="#000"/>
<circle cx="103.5" cy="705.5" r="3.45" fill="#000"/>
<circle cx="103.5" cy="708.9" r="3.45" fill="#000"/>
<circle cx="103.5" cy="712.3" r="3.45" fill="#000"/>
<circle cx="103.5" cy="715.7" r="3.45" fill="#000"/>
<circle cx="103.5" cy="719.0" r="3.45" fill="#000"/>
<circle cx="103.5" cy="722.4" r="3.45" fill="#000"/>
<circle cx="103.5" cy="725.8" r="3.45" fill="#000"/>
<circle cx="103.5" cy="729.2" r="3.45" fill="#000"/>
<circle cx="115.4" cy="685.7" r="3.45" fill="#000"/>
<circle cx="115.4" cy="690.0" r="3.45" fill="#000"/>
<circle cx="115.4" cy="694.3" r="3.45" fill="#000"/>
<circle cx="115.4" cy="698.5" r="3.45" fill="#000"/>
<circle cx="115.4" cy="702.8" r="3.45" fill="#000"/>
<circle cx="115.4" cy="707.1" r="3.45" fill="#000"/>
<circle cx="115.4" cy="711.4" r="3.45" fill="#000"/>
<circle cx="115.4" cy="722.1" r="3.45" fill="#000"/>
<circle cx="115.4" cy="726.5" r="3.45" fill="#000"/>
<circle cx="115.4" cy="731.0" r="3.45" fill="#000"/>
<circle cx="127.6" cy="692.2" r="3.45" fill="#000"/>
<circle cx="127.6" cy="696.5" r="3.45" fill="#000"/>
<circle cx="127.6" cy="700.9" r="3.45" fill="#000"/>
<circle cx="127.6" cy="705.2" r="3.45" fill="#000"/>
<circle cx="127.6" cy="709.6" r="3.45" fill="#000"/>
<circle cx="127.6" cy="713.9" r="3.45" fill="#000"/>
<circle cx="127.6" cy="718.3" r="3.45" fill="#000"/>
<circle cx="127.6" cy="722.6" r="3.45" fill="#000"/>
<circle cx="139.7" cy="695.5" r="3.45" fill="#000"/>
<circle cx="139.7" cy="699.8" r="3.45" fill="#000"/>
<circle cx="139.7" cy="704.1" r="3.45" fill="#000"/>
<circle cx="139.7" cy="708.4" r="3.45" fill="#000"/>
<circle cx="139.7" cy="712.6" r="3.45" fill="#000"/>
<circle cx="139.7" cy="716.9" r="3.45" fill="#000"/>
<circle cx="139.7" cy="721.2" r="3.45" fill="#000"/>
<circle cx="164.3" cy="699.0" r="3.45" fill="#000"/>
<circle cx="164.3" cy="703.2" r="3.45" fill="#000"/>
<circle cx="164.3" cy="707.3" r="3.45" fill="#000"/>
<circle cx="164.3" cy="711.5" r="3.45" fill="#000"/>
<circle cx="188.3" cy="703.8" r="3.45" fill="#000"/>
<circle cx="188.3" cy="706.8" r="3.45" fill="#000"/>
<circle cx="188.3" cy="709.8" r="3.45" fill="#000"/>
<circle cx="212.6" cy="701.7" r="3.45" fill="#000"/>
<circle cx="212.6" cy="705.4" r="3.45" fill="#000"/>
<circle cx="212.6" cy="709.0" r="3.45" fill="#000"/>
<circle cx="237.0" cy="702.7" r="3.45" fill="#000"/>
<circle cx="237.0" cy="707.4" r="3.45" fill="#000"/>
<circle cx="261.4" cy="705.5" r="3.45" fill="#000"/>
<circle cx="261.4" cy="708.2" r="3.45" fill="#000"/>
<circle cx="358.5" cy="705.5" r="3.45" fill="#000"/>
<rect x="477.3" y="598.7" width="315.90000000000003" height="209.0" fill="none" stroke="#000" stroke-width="1.5"/>
<line x1="477.30" y1="703.00" x2="793.20" y2="703.00" stroke="#000" stroke-width="1.3" stroke-dasharray="1.9,1.1"/>
<line x1="786.70" y1="703.00" x2="793.20" y2="703.00" stroke="#000" stroke-width="1.5" />
<line x1="477.30" y1="807.70" x2="477.30" y2="814.20" stroke="#000" stroke-width="1.5" />
<g transform="translate(473.21 830.00) scale(0.92 1)" fill="#000" stroke="#000" stroke-width="0.3"><text x="0.000" y="0" font-size="16" font-weight="700">0</text></g>
<line x1="574.50" y1="807.70" x2="574.50" y2="814.20" stroke="#000" stroke-width="1.5" />
<line x1="574.50" y1="598.70" x2="574.50" y2="605.20" stroke="#000" stroke-width="1.5" />
<g transform="translate(570.41 830.00) scale(0.92 1)" fill="#000" stroke="#000" stroke-width="0.3"><text x="0.000" y="0" font-size="16" font-weight="700">4</text></g>
<line x1="671.70" y1="807.70" x2="671.70" y2="814.20" stroke="#000" stroke-width="1.5" />
<line x1="671.70" y1="598.70" x2="671.70" y2="605.20" stroke="#000" stroke-width="1.5" />
<g transform="translate(667.61 830.00) scale(0.92 1)" fill="#000" stroke="#000" stroke-width="0.3"><text x="0.000" y="0" font-size="16" font-weight="700">8</text></g>
<line x1="768.90" y1="807.70" x2="768.90" y2="814.20" stroke="#000" stroke-width="1.5" />
<line x1="768.90" y1="598.70" x2="768.90" y2="605.20" stroke="#000" stroke-width="1.5" />
<g transform="translate(760.72 830.00) scale(0.92 1)" fill="#000" stroke="#000" stroke-width="0.3"><path transform="translate(0.000 0)" d="M6.5,0 L6.5,-11.5 L4.6,-11.5 C3.9,-10.2 2.2,-9.2 0.25,-8.8 L0.25,-6.4 C1.5,-6.8 2.8,-7.4 3.9,-8.2 L3.9,0 Z"/><text x="8.896" y="0" font-size="16" font-weight="700">2</text></g>
<line x1="470.80" y1="598.70" x2="477.30" y2="598.70" stroke="#000" stroke-width="1.5" />
<g transform="translate(452.93 604.30) scale(0.92 1)" fill="#000" stroke="#000" stroke-width="0.3"><text x="0.000" y="0" font-size="16" font-weight="700">5</text><text x="8.896" y="0" font-size="16" font-weight="700">0</text></g>
<line x1="470.80" y1="703.00" x2="477.30" y2="703.00" stroke="#000" stroke-width="1.5" />
<g transform="translate(461.12 708.60) scale(0.92 1)" fill="#000" stroke="#000" stroke-width="0.3"><text x="0.000" y="0" font-size="16" font-weight="700">0</text></g>
<line x1="470.80" y1="807.70" x2="477.30" y2="807.70" stroke="#000" stroke-width="1.5" />
<g transform="translate(448.03 813.30) scale(0.92 1)" fill="#000" stroke="#000" stroke-width="0.3"><text x="0.000" y="0" font-size="16" font-weight="700">-</text><text x="5.328" y="0" font-size="16" font-weight="700">5</text><text x="14.224" y="0" font-size="16" font-weight="700">0</text></g>
<text x="483.20" y="625.30" font-size="22" font-weight="700" font-style="normal" text-anchor="start" stroke="#000" stroke-width="0.4">(f)</text>
<text x="605.60" y="850.60" font-size="14.6" font-weight="400" font-style="normal" text-anchor="start" stroke="#000" stroke-width="0.35" >Time (h)</text>
<text x="433.00" y="754.00" font-size="14.6" font-weight="400" font-style="normal" text-anchor="start" stroke="#000" stroke-width="0.35" transform="rotate(-90 433 754)">Residuals (µg/L)</text>
<circle cx="483.3" cy="670.9" r="2.9" fill="none" stroke="#000" stroke-width="1.25"/>
<circle cx="483.3" cy="675.0" r="2.9" fill="none" stroke="#000" stroke-width="1.25"/>
<circle cx="483.3" cy="681.9" r="2.9" fill="none" stroke="#000" stroke-width="1.25"/>
<circle cx="483.3" cy="692.1" r="2.9" fill="none" stroke="#000" stroke-width="1.25"/>
<circle cx="483.3" cy="695.4" r="2.9" fill="none" stroke="#000" stroke-width="1.25"/>
<circle cx="483.3" cy="698.7" r="2.9" fill="none" stroke="#000" stroke-width="1.25"/>
<circle cx="483.3" cy="701.9" r="2.9" fill="none" stroke="#000" stroke-width="1.25"/>
<circle cx="483.3" cy="703.4" r="2.9" fill="none" stroke="#000" stroke-width="1.25"/>
<circle cx="483.3" cy="706.5" r="2.9" fill="none" stroke="#000" stroke-width="1.25"/>
<circle cx="483.3" cy="711.8" r="2.9" fill="none" stroke="#000" stroke-width="1.25"/>
<circle cx="483.3" cy="720.2" r="2.9" fill="none" stroke="#000" stroke-width="1.25"/>
<circle cx="483.3" cy="729.7" r="2.9" fill="none" stroke="#000" stroke-width="1.25"/>
<circle cx="489.5" cy="652.6" r="2.9" fill="none" stroke="#000" stroke-width="1.25"/>
<circle cx="489.5" cy="664.0" r="2.9" fill="none" stroke="#000" stroke-width="1.25"/>
<circle cx="489.5" cy="666.4" r="2.9" fill="none" stroke="#000" stroke-width="1.25"/>
<circle cx="489.5" cy="674.2" r="2.9" fill="none" stroke="#000" stroke-width="1.25"/>
<circle cx="489.5" cy="680.7" r="2.9" fill="none" stroke="#000" stroke-width="1.25"/>
<circle cx="489.5" cy="693.0" r="2.9" fill="none" stroke="#000" stroke-width="1.25"/>
<circle cx="489.5" cy="696.2" r="2.9" fill="none" stroke="#000" stroke-width="1.25"/>
<circle cx="489.5" cy="699.5" r="2.9" fill="none" stroke="#000" stroke-width="1.25"/>
<circle cx="489.5" cy="702.8" r="2.9" fill="none" stroke="#000" stroke-width="1.25"/>
<circle cx="489.5" cy="705.5" r="2.9" fill="none" stroke="#000" stroke-width="1.25"/>
<circle cx="489.5" cy="708.3" r="2.9" fill="none" stroke="#000" stroke-width="1.25"/>
<circle cx="489.5" cy="715.7" r="2.9" fill="none" stroke="#000" stroke-width="1.25"/>
<circle cx="489.5" cy="722.0" r="2.9" fill="none" stroke="#000" stroke-width="1.25"/>
<circle cx="489.5" cy="740.9" r="2.9" fill="none" stroke="#000" stroke-width="1.25"/>
<circle cx="495.6" cy="640.7" r="2.9" fill="none" stroke="#000" stroke-width="1.25"/>
<circle cx="495.6" cy="654.2" r="2.9" fill="none" stroke="#000" stroke-width="1.25"/>
<circle cx="495.6" cy="658.7" r="2.9" fill="none" stroke="#000" stroke-width="1.25"/>
<circle cx="495.6" cy="661.1" r="2.9" fill="none" stroke="#000" stroke-width="1.25"/>
<circle cx="495.6" cy="664.0" r="2.9" fill="none" stroke="#000" stroke-width="1.25"/>
<circle cx="495.6" cy="674.6" r="2.9" fill="none" stroke="#000" stroke-width="1.25"/>
<circle cx="495.6" cy="689.7" r="2.9" fill="none" stroke="#000" stroke-width="1.25"/>
<circle cx="495.6" cy="693.0" r="2.9" fill="none" stroke="#000" stroke-width="1.25"/>
<circle cx="495.6" cy="697.0" r="2.9" fill="none" stroke="#000" stroke-width="1.25"/>
<circle cx="495.6" cy="700.3" r="2.9" fill="none" stroke="#000" stroke-width="1.25"/>
<circle cx="495.6" cy="702.5" r="2.9" fill="none" stroke="#000" stroke-width="1.25"/>
<circle cx="495.6" cy="705.5" r="2.9" fill="none" stroke="#000" stroke-width="1.25"/>
<circle cx="495.6" cy="712.9" r="2.9" fill="none" stroke="#000" stroke-width="1.25"/>
<circle cx="495.6" cy="720.6" r="2.9" fill="none" stroke="#000" stroke-width="1.25"/>
<circle cx="495.6" cy="732.1" r="2.9" fill="none" stroke="#000" stroke-width="1.25"/>
<circle cx="501.7" cy="652.6" r="2.9" fill="none" stroke="#000" stroke-width="1.25"/>
<circle cx="501.7" cy="663.6" r="2.9" fill="none" stroke="#000" stroke-width="1.25"/>
<circle cx="501.7" cy="666.8" r="2.9" fill="none" stroke="#000" stroke-width="1.25"/>
<circle cx="501.7" cy="669.3" r="2.9" fill="none" stroke="#000" stroke-width="1.25"/>
<circle cx="501.7" cy="677.9" r="2.9" fill="none" stroke="#000" stroke-width="1.25"/>
<circle cx="501.7" cy="686.4" r="2.9" fill="none" stroke="#000" stroke-width="1.25"/>
<circle cx="501.7" cy="689.3" r="2.9" fill="none" stroke="#000" stroke-width="1.25"/>
<circle cx="501.7" cy="692.1" r="2.9" fill="none" stroke="#000" stroke-width="1.25"/>
<circle cx="501.7" cy="695.4" r="2.9" fill="none" stroke="#000" stroke-width="1.25"/>
<circle cx="501.7" cy="698.7" r="2.9" fill="none" stroke="#000" stroke-width="1.25"/>
<circle cx="501.7" cy="701.1" r="2.9" fill="none" stroke="#000" stroke-width="1.25"/>
<circle cx="501.7" cy="704.0" r="2.9" fill="none" stroke="#000" stroke-width="1.25"/>
<circle cx="501.7" cy="708.3" r="2.9" fill="none" stroke="#000" stroke-width="1.25"/>
<circle cx="501.7" cy="711.8" r="2.9" fill="none" stroke="#000" stroke-width="1.25"/>
<circle cx="501.7" cy="725.1" r="2.9" fill="none" stroke="#000" stroke-width="1.25"/>
<circle cx="513.8" cy="668.3" r="2.9" fill="none" stroke="#000" stroke-width="1.25"/>
<circle cx="513.8" cy="671.4" r="2.9" fill="none" stroke="#000" stroke-width="1.25"/>
<circle cx="513.8" cy="674.5" r="2.9" fill="none" stroke="#000" stroke-width="1.25"/>
<circle cx="513.8" cy="677.5" r="2.9" fill="none" stroke="#000" stroke-width="1.25"/>
<circle cx="513.8" cy="680.6" r="2.9" fill="none" stroke="#000" stroke-width="1.25"/>
<circle cx="513.8" cy="688.0" r="2.9" fill="none" stroke="#000" stroke-width="1.25"/>
<circle cx="513.8" cy="690.6" r="2.9" fill="none" stroke="#000" stroke-width="1.25"/>
<circle cx="513.8" cy="693.3" r="2.9" fill="none" stroke="#000" stroke-width="1.25"/>
<circle cx="513.8" cy="697.7" r="2.9" fill="none" stroke="#000" stroke-width="1.25"/>
<circle cx="513.8" cy="701.2" r="2.9" fill="none" stroke="#000" stroke-width="1.25"/>
<circle cx="513.8" cy="703.8" r="2.9" fill="none" stroke="#000" stroke-width="1.25"/>
<circle cx="513.8" cy="707.3" r="2.9" fill="none" stroke="#000" stroke-width="1.25"/>
<circle cx="513.8" cy="710.8" r="2.9" fill="none" stroke="#000" stroke-width="1.25"/>
<circle cx="513.8" cy="727.9" r="2.9" fill="none" stroke="#000" stroke-width="1.25"/>
<circle cx="525.8" cy="677.5" r="2.9" fill="none" stroke="#000" stroke-width="1.25"/>
<circle cx="525.8" cy="679.7" r="2.9" fill="none" stroke="#000" stroke-width="1.25"/>
<circle cx="525.8" cy="681.9" r="2.9" fill="none" stroke="#000" stroke-width="1.25"/>
<circle cx="525.8" cy="684.1" r="2.9" fill="none" stroke="#000" stroke-width="1.25"/>
<circle cx="525.8" cy="686.3" r="2.9" fill="none" stroke="#000" stroke-width="1.25"/>
<circle cx="525.8" cy="688.5" r="2.9" fill="none" stroke="#000" stroke-width="1.25"/>
<circle cx="525.8" cy="690.6" r="2.9" fill="none" stroke="#000" stroke-width="1.25"/>
<circle cx="525.8" cy="692.8" r="2.9" fill="none" stroke="#000" stroke-width="1.25"/>
<circle cx="525.8" cy="695.0" r="2.9" fill="none" stroke="#000" stroke-width="1.25"/>
<circle cx="525.8" cy="697.2" r="2.9" fill="none" stroke="#000" stroke-width="1.25"/>
<circle cx="525.8" cy="699.4" r="2.9" fill="none" stroke="#000" stroke-width="1.25"/>
<circle cx="525.8" cy="701.6" r="2.9" fill="none" stroke="#000" stroke-width="1.25"/>
<circle cx="525.8" cy="703.8" r="2.9" fill="none" stroke="#000" stroke-width="1.25"/>
<circle cx="525.8" cy="713.4" r="2.9" fill="none" stroke="#000" stroke-width="1.25"/>
<circle cx="525.8" cy="722.6" r="2.9" fill="none" stroke="#000" stroke-width="1.25"/>
<circle cx="538.1" cy="682.3" r="2.9" fill="none" stroke="#000" stroke-width="1.25"/>
<circle cx="538.1" cy="684.4" r="2.9" fill="none" stroke="#000" stroke-width="1.25"/>
<circle cx="538.1" cy="686.4" r="2.9" fill="none" stroke="#000" stroke-width="1.25"/>
<circle cx="538.1" cy="688.5" r="2.9" fill="none" stroke="#000" stroke-width="1.25"/>
<circle cx="538.1" cy="690.5" r="2.9" fill="none" stroke="#000" stroke-width="1.25"/>
<circle cx="538.1" cy="692.6" r="2.9" fill="none" stroke="#000" stroke-width="1.25"/>
<circle cx="538.1" cy="694.6" r="2.9" fill="none" stroke="#000" stroke-width="1.25"/>
<circle cx="538.1" cy="696.7" r="2.9" fill="none" stroke="#000" stroke-width="1.25"/>
<circle cx="538.1" cy="698.7" r="2.9" fill="none" stroke="#000" stroke-width="1.25"/>
<circle cx="538.1" cy="700.8" r="2.9" fill="none" stroke="#000" stroke-width="1.25"/>
<circle cx="538.1" cy="702.8" r="2.9" fill="none" stroke="#000" stroke-width="1.25"/>
<circle cx="538.1" cy="704.9" r="2.9" fill="none" stroke="#000" stroke-width="1.25"/>
<circle cx="538.1" cy="706.9" r="2.9" fill="none" stroke="#000" stroke-width="1.25"/>
<circle cx="538.1" cy="709.0" r="2.9" fill="none" stroke="#000" stroke-width="1.25"/>
<circle cx="538.1" cy="715.2" r="2.9" fill="none" stroke="#000" stroke-width="1.25"/>
<circle cx="550.4" cy="686.7" r="2.9" fill="none" stroke="#000" stroke-width="1.25"/>
<circle cx="550.4" cy="688.5" r="2.9" fill="none" stroke="#000" stroke-width="1.25"/>
<circle cx="550.4" cy="690.4" r="2.9" fill="none" stroke="#000" stroke-width="1.25"/>
<circle cx="550.4" cy="692.2" r="2.9" fill="none" stroke="#000" stroke-width="1.25"/>
<circle cx="550.4" cy="694.1" r="2.9" fill="none" stroke="#000" stroke-width="1.25"/>
<circle cx="550.4" cy="695.9" r="2.9" fill="none" stroke="#000" stroke-width="1.25"/>
<circle cx="550.4" cy="697.7" r="2.9" fill="none" stroke="#000" stroke-width="1.25"/>
<circle cx="550.4" cy="699.6" r="2.9" fill="none" stroke="#000" stroke-width="1.25"/>
<circle cx="550.4" cy="701.4" r="2.9" fill="none" stroke="#000" stroke-width="1.25"/>
<circle cx="550.4" cy="703.3" r="2.9" fill="none" stroke="#000" stroke-width="1.25"/>
<circle cx="550.4" cy="705.1" r="2.9" fill="none" stroke="#000" stroke-width="1.25"/>
<circle cx="550.4" cy="715.2" r="2.9" fill="none" stroke="#000" stroke-width="1.25"/>
<circle cx="574.6" cy="690.7" r="2.9" fill="none" stroke="#000" stroke-width="1.25"/>
<circle cx="574.6" cy="692.4" r="2.9" fill="none" stroke="#000" stroke-width="1.25"/>
<circle cx="574.6" cy="694.1" r="2.9" fill="none" stroke="#000" stroke-width="1.25"/>
<circle cx="574.6" cy="695.8" r="2.9" fill="none" stroke="#000" stroke-width="1.25"/>
<circle cx="574.6" cy="697.5" r="2.9" fill="none" stroke="#000" stroke-width="1.25"/>
<circle cx="574.6" cy="699.2" r="2.9" fill="none" stroke="#000" stroke-width="1.25"/>
<circle cx="574.6" cy="700.9" r="2.9" fill="none" stroke="#000" stroke-width="1.25"/>
<circle cx="574.6" cy="702.6" r="2.9" fill="none" stroke="#000" stroke-width="1.25"/>
<circle cx="574.6" cy="704.3" r="2.9" fill="none" stroke="#000" stroke-width="1.25"/>
<circle cx="574.6" cy="706.0" r="2.9" fill="none" stroke="#000" stroke-width="1.25"/>
<circle cx="598.7" cy="693.1" r="2.9" fill="none" stroke="#000" stroke-width="1.25"/>
<circle cx="598.7" cy="694.9" r="2.9" fill="none" stroke="#000" stroke-width="1.25"/>
<circle cx="598.7" cy="696.7" r="2.9" fill="none" stroke="#000" stroke-width="1.25"/>
<circle cx="598.7" cy="698.5" r="2.9" fill="none" stroke="#000" stroke-width="1.25"/>
<circle cx="598.7" cy="700.4" r="2.9" fill="none" stroke="#000" stroke-width="1.25"/>
<circle cx="598.7" cy="702.2" r="2.9" fill="none" stroke="#000" stroke-width="1.25"/>
<circle cx="598.7" cy="704.0" r="2.9" fill="none" stroke="#000" stroke-width="1.25"/>
<circle cx="623.1" cy="695.2" r="2.9" fill="none" stroke="#000" stroke-width="1.25"/>
<circle cx="623.1" cy="696.8" r="2.9" fill="none" stroke="#000" stroke-width="1.25"/>
<circle cx="623.1" cy="698.4" r="2.9" fill="none" stroke="#000" stroke-width="1.25"/>
<circle cx="623.1" cy="700.0" r="2.9" fill="none" stroke="#000" stroke-width="1.25"/>
<circle cx="623.1" cy="701.6" r="2.9" fill="none" stroke="#000" stroke-width="1.25"/>
<circle cx="623.1" cy="703.2" r="2.9" fill="none" stroke="#000" stroke-width="1.25"/>
<circle cx="623.1" cy="704.8" r="2.9" fill="none" stroke="#000" stroke-width="1.25"/>
<circle cx="647.5" cy="696.1" r="2.9" fill="none" stroke="#000" stroke-width="1.25"/>
<circle cx="647.5" cy="697.9" r="2.9" fill="none" stroke="#000" stroke-width="1.25"/>
<circle cx="647.5" cy="699.7" r="2.9" fill="none" stroke="#000" stroke-width="1.25"/>
<circle cx="647.5" cy="701.4" r="2.9" fill="none" stroke="#000" stroke-width="1.25"/>
<circle cx="647.5" cy="703.2" r="2.9" fill="none" stroke="#000" stroke-width="1.25"/>
<circle cx="671.9" cy="696.4" r="2.9" fill="none" stroke="#000" stroke-width="1.25"/>
<circle cx="671.9" cy="698.3" r="2.9" fill="none" stroke="#000" stroke-width="1.25"/>
<circle cx="671.9" cy="700.2" r="2.9" fill="none" stroke="#000" stroke-width="1.25"/>
<circle cx="671.9" cy="702.1" r="2.9" fill="none" stroke="#000" stroke-width="1.25"/>
<circle cx="671.9" cy="704.0" r="2.9" fill="none" stroke="#000" stroke-width="1.25"/>
<circle cx="769.0" cy="702.5" r="2.9" fill="none" stroke="#000" stroke-width="1.25"/>
<circle cx="769.0" cy="704.0" r="2.9" fill="none" stroke="#000" stroke-width="1.25"/></svg>
</body></html>
